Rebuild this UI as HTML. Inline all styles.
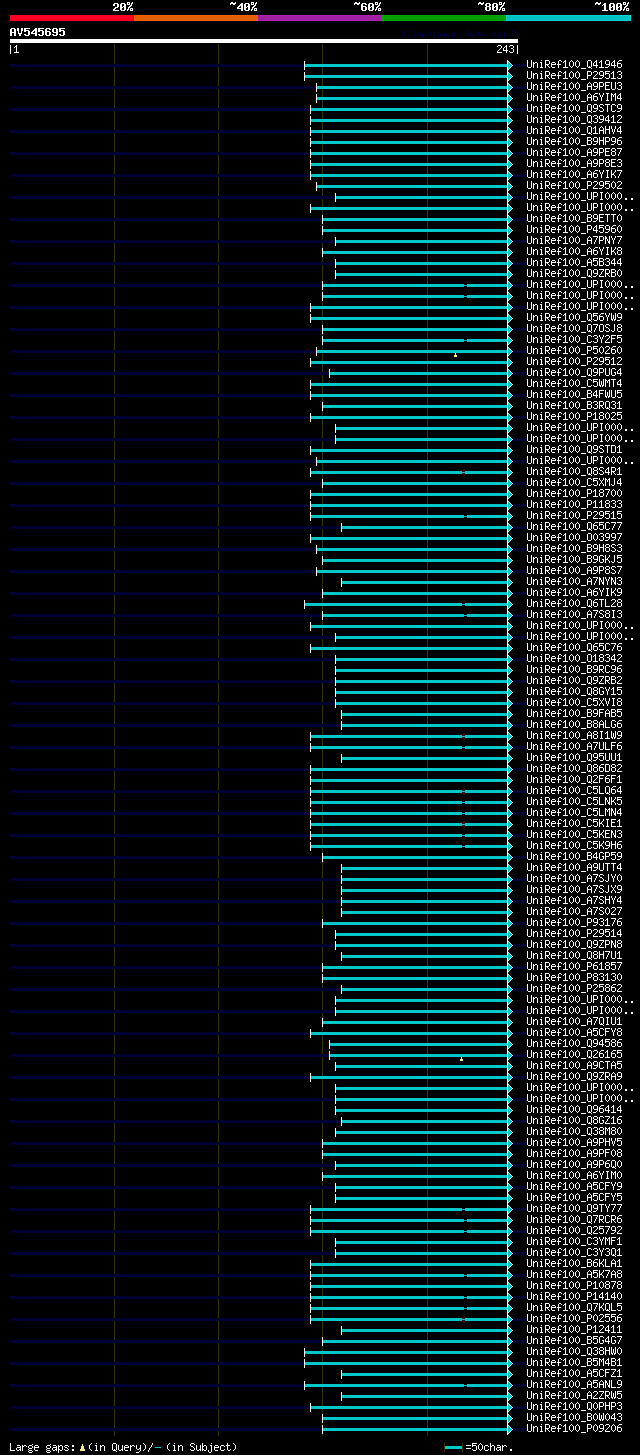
<!DOCTYPE html><html><head><meta charset="utf-8"><title>AlignView</title><style>html,body{margin:0;padding:0;background:#000;overflow:hidden}svg{display:block}</style></head><body><svg width="640" height="1455" viewBox="0 0 640 1455" shape-rendering="crispEdges"><defs>
<path id="M126" d="M1 2h2v1h-2zM5 2h1v1h-1zM0 3h6v1h-6zM0 4h1v1h-1zM3 4h2v1h-2z"/>
<path id="M37" d="M0 2h3v1h-3zM5 2h1v1h-1zM0 3h1v1h-1zM2 3h1v1h-1zM4 3h2v1h-2zM0 4h3v1h-3zM4 4h1v1h-1zM3 5h2v1h-2zM2 6h2v1h-2zM1 7h2v1h-2zM1 8h1v1h-1zM3 8h3v1h-3zM0 9h2v1h-2zM3 9h1v1h-1zM5 9h1v1h-1zM0 10h1v1h-1zM3 10h3v1h-3z"/>
<path id="M48" d="M1 3h4v1h-4zM0 4h2v1h-2zM4 4h2v1h-2zM0 5h2v1h-2zM4 5h2v1h-2zM0 6h2v1h-2zM3 6h3v1h-3zM0 7h3v1h-3zM4 7h2v1h-2zM0 8h2v1h-2zM4 8h2v1h-2zM0 9h2v1h-2zM4 9h2v1h-2zM1 10h4v1h-4z"/>
<path id="M49" d="M2 3h2v1h-2zM1 4h3v1h-3zM0 5h1v1h-1zM2 5h2v1h-2zM2 6h2v1h-2zM2 7h2v1h-2zM2 8h2v1h-2zM2 9h2v1h-2zM0 10h6v1h-6z"/>
<path id="M50" d="M1 3h4v1h-4zM0 4h2v1h-2zM4 4h2v1h-2zM0 5h2v1h-2zM4 5h2v1h-2zM4 6h2v1h-2zM2 7h3v1h-3zM1 8h2v1h-2zM0 9h2v1h-2zM0 10h6v1h-6z"/>
<path id="M52" d="M4 3h2v1h-2zM3 4h3v1h-3zM2 5h4v1h-4zM1 6h2v1h-2zM4 6h2v1h-2zM0 7h2v1h-2zM4 7h2v1h-2zM0 8h6v1h-6zM4 9h2v1h-2zM4 10h2v1h-2z"/>
<path id="M53" d="M0 3h6v1h-6zM0 4h2v1h-2zM0 5h5v1h-5zM0 6h2v1h-2zM4 6h2v1h-2zM4 7h2v1h-2zM4 8h2v1h-2zM0 9h2v1h-2zM4 9h2v1h-2zM1 10h4v1h-4z"/>
<path id="M54" d="M1 3h4v1h-4zM0 4h2v1h-2zM4 4h2v1h-2zM0 5h2v1h-2zM0 6h5v1h-5zM0 7h2v1h-2zM4 7h2v1h-2zM0 8h2v1h-2zM4 8h2v1h-2zM0 9h2v1h-2zM4 9h2v1h-2zM1 10h4v1h-4z"/>
<path id="M56" d="M1 3h4v1h-4zM0 4h2v1h-2zM4 4h2v1h-2zM0 5h2v1h-2zM4 5h2v1h-2zM1 6h4v1h-4zM0 7h2v1h-2zM4 7h2v1h-2zM0 8h2v1h-2zM4 8h2v1h-2zM0 9h2v1h-2zM4 9h2v1h-2zM1 10h4v1h-4z"/>
<path id="M57" d="M1 3h4v1h-4zM0 4h2v1h-2zM4 4h2v1h-2zM0 5h2v1h-2zM4 5h2v1h-2zM0 6h2v1h-2zM4 6h2v1h-2zM1 7h5v1h-5zM4 8h2v1h-2zM0 9h2v1h-2zM4 9h2v1h-2zM1 10h4v1h-4z"/>
<path id="M65" d="M1 3h4v1h-4zM0 4h2v1h-2zM4 4h2v1h-2zM0 5h2v1h-2zM4 5h2v1h-2zM0 6h2v1h-2zM4 6h2v1h-2zM0 7h6v1h-6zM0 8h2v1h-2zM4 8h2v1h-2zM0 9h2v1h-2zM4 9h2v1h-2zM0 10h2v1h-2zM4 10h2v1h-2z"/>
<path id="M86" d="M0 3h2v1h-2zM4 3h2v1h-2zM0 4h2v1h-2zM4 4h2v1h-2zM0 5h2v1h-2zM4 5h2v1h-2zM1 6h1v1h-1zM4 6h1v1h-1zM1 7h1v1h-1zM4 7h1v1h-1zM1 8h4v1h-4zM2 9h2v1h-2zM2 10h2v1h-2z"/>
<path id="S101" d="M1 5h3v1h-3zM0 6h1v1h-1zM4 6h1v1h-1zM0 7h5v1h-5zM0 8h1v1h-1zM0 9h1v1h-1zM1 10h3v1h-3z"/>
<path id="S102" d="M2 3h2v1h-2zM1 4h1v1h-1zM4 4h1v1h-1zM1 5h1v1h-1zM1 6h1v1h-1zM0 7h4v1h-4zM1 8h1v1h-1zM1 9h1v1h-1zM1 10h1v1h-1z"/>
<path id="S103" d="M4 4h1v1h-1zM1 5h3v1h-3zM0 6h1v1h-1zM4 6h1v1h-1zM0 7h1v1h-1zM4 7h1v1h-1zM1 8h3v1h-3zM0 9h1v1h-1zM1 10h3v1h-3zM0 11h1v1h-1zM4 11h1v1h-1zM1 12h3v1h-3z"/>
<path id="S104" d="M0 3h1v1h-1zM0 4h1v1h-1zM0 5h1v1h-1zM2 5h2v1h-2zM0 6h2v1h-2zM4 6h1v1h-1zM0 7h1v1h-1zM4 7h1v1h-1zM0 8h1v1h-1zM4 8h1v1h-1zM0 9h1v1h-1zM4 9h1v1h-1zM0 10h1v1h-1zM4 10h1v1h-1z"/>
<path id="S105" d="M2 3h1v1h-1zM1 5h2v1h-2zM2 6h1v1h-1zM2 7h1v1h-1zM2 8h1v1h-1zM2 9h1v1h-1zM1 10h3v1h-3z"/>
<path id="S106" d="M3 3h1v1h-1zM2 5h2v1h-2zM3 6h1v1h-1zM3 7h1v1h-1zM3 8h1v1h-1zM3 9h1v1h-1zM0 10h1v1h-1zM3 10h1v1h-1zM0 11h1v1h-1zM3 11h1v1h-1zM1 12h2v1h-2z"/>
<path id="S110" d="M0 5h1v1h-1zM2 5h2v1h-2zM0 6h2v1h-2zM4 6h1v1h-1zM0 7h1v1h-1zM4 7h1v1h-1zM0 8h1v1h-1zM4 8h1v1h-1zM0 9h1v1h-1zM4 9h1v1h-1zM0 10h1v1h-1zM4 10h1v1h-1z"/>
<path id="S112" d="M0 5h1v1h-1zM2 5h2v1h-2zM0 6h2v1h-2zM4 6h1v1h-1zM0 7h1v1h-1zM4 7h1v1h-1zM0 8h1v1h-1zM4 8h1v1h-1zM0 9h2v1h-2zM4 9h1v1h-1zM0 10h1v1h-1zM2 10h2v1h-2zM0 11h1v1h-1zM0 12h1v1h-1z"/>
<path id="S114" d="M0 5h1v1h-1zM2 5h2v1h-2zM0 6h2v1h-2zM4 6h1v1h-1zM0 7h1v1h-1zM0 8h1v1h-1zM0 9h1v1h-1zM0 10h1v1h-1z"/>
<path id="S115" d="M1 5h3v1h-3zM0 6h1v1h-1zM4 6h1v1h-1zM1 7h2v1h-2zM3 8h1v1h-1zM0 9h1v1h-1zM4 9h1v1h-1zM1 10h3v1h-3z"/>
<path id="S116" d="M1 3h1v1h-1zM1 4h1v1h-1zM0 5h4v1h-4zM1 6h1v1h-1zM1 7h1v1h-1zM1 8h1v1h-1zM1 9h1v1h-1zM4 9h1v1h-1zM2 10h2v1h-2z"/>
<path id="S117" d="M0 5h1v1h-1zM4 5h1v1h-1zM0 6h1v1h-1zM4 6h1v1h-1zM0 7h1v1h-1zM4 7h1v1h-1zM0 8h1v1h-1zM4 8h1v1h-1zM0 9h1v1h-1zM3 9h2v1h-2zM1 10h2v1h-2zM4 10h1v1h-1z"/>
<path id="S121" d="M0 5h1v1h-1zM4 5h1v1h-1zM0 6h1v1h-1zM4 6h1v1h-1zM0 7h1v1h-1zM4 7h1v1h-1zM0 8h1v1h-1zM3 8h2v1h-2zM1 9h2v1h-2zM4 9h1v1h-1zM4 10h1v1h-1zM3 11h1v1h-1zM0 12h3v1h-3z"/>
<path id="S124" d="M2 3h1v1h-1zM2 4h1v1h-1zM2 5h1v1h-1zM2 6h1v1h-1zM2 7h1v1h-1zM2 8h1v1h-1zM2 9h1v1h-1zM2 10h1v1h-1zM2 11h1v1h-1z"/>
<path id="S40" d="M3 3h1v1h-1zM2 4h1v1h-1zM1 5h1v1h-1zM1 6h1v1h-1zM1 7h1v1h-1zM1 8h1v1h-1zM2 9h1v1h-1zM3 10h1v1h-1z"/>
<path id="S41" d="M1 3h1v1h-1zM2 4h1v1h-1zM3 5h1v1h-1zM3 6h1v1h-1zM3 7h1v1h-1zM3 8h1v1h-1zM2 9h1v1h-1zM1 10h1v1h-1z"/>
<path id="S46" d="M2 9h2v1h-2zM2 10h2v1h-2z"/>
<path id="S47" d="M4 3h1v1h-1zM4 4h1v1h-1zM3 5h1v1h-1zM3 6h1v1h-1zM2 7h1v1h-1zM1 8h1v1h-1zM1 9h1v1h-1zM0 10h1v1h-1zM0 11h1v1h-1z"/>
<path id="S48" d="M2 3h1v1h-1zM1 4h1v1h-1zM3 4h1v1h-1zM0 5h1v1h-1zM4 5h1v1h-1zM0 6h1v1h-1zM4 6h1v1h-1zM0 7h1v1h-1zM4 7h1v1h-1zM0 8h1v1h-1zM4 8h1v1h-1zM1 9h1v1h-1zM3 9h1v1h-1zM2 10h1v1h-1z"/>
<path id="S49" d="M2 3h1v1h-1zM1 4h2v1h-2zM0 5h1v1h-1zM2 5h1v1h-1zM2 6h1v1h-1zM2 7h1v1h-1zM2 8h1v1h-1zM2 9h1v1h-1zM0 10h5v1h-5z"/>
<path id="S50" d="M1 3h3v1h-3zM0 4h1v1h-1zM4 4h1v1h-1zM4 5h1v1h-1zM3 6h1v1h-1zM2 7h1v1h-1zM1 8h1v1h-1zM0 9h1v1h-1zM0 10h5v1h-5z"/>
<path id="S51" d="M1 3h3v1h-3zM0 4h1v1h-1zM4 4h1v1h-1zM4 5h1v1h-1zM2 6h2v1h-2zM4 7h1v1h-1zM4 8h1v1h-1zM0 9h1v1h-1zM4 9h1v1h-1zM1 10h3v1h-3z"/>
<path id="S52" d="M3 3h1v1h-1zM2 4h2v1h-2zM1 5h1v1h-1zM3 5h1v1h-1zM0 6h1v1h-1zM3 6h1v1h-1zM0 7h1v1h-1zM3 7h1v1h-1zM0 8h5v1h-5zM3 9h1v1h-1zM3 10h1v1h-1z"/>
<path id="S53" d="M0 3h5v1h-5zM0 4h1v1h-1zM0 5h4v1h-4zM0 6h1v1h-1zM4 6h1v1h-1zM4 7h1v1h-1zM4 8h1v1h-1zM0 9h1v1h-1zM4 9h1v1h-1zM1 10h3v1h-3z"/>
<path id="S54" d="M2 3h3v1h-3zM1 4h1v1h-1zM0 5h1v1h-1zM0 6h4v1h-4zM0 7h1v1h-1zM4 7h1v1h-1zM0 8h1v1h-1zM4 8h1v1h-1zM0 9h1v1h-1zM4 9h1v1h-1zM1 10h3v1h-3z"/>
<path id="S55" d="M0 3h5v1h-5zM4 4h1v1h-1zM3 5h1v1h-1zM3 6h1v1h-1zM2 7h1v1h-1zM2 8h1v1h-1zM1 9h1v1h-1zM1 10h1v1h-1z"/>
<path id="S56" d="M1 3h3v1h-3zM0 4h1v1h-1zM4 4h1v1h-1zM0 5h1v1h-1zM4 5h1v1h-1zM1 6h3v1h-3zM0 7h1v1h-1zM4 7h1v1h-1zM0 8h1v1h-1zM4 8h1v1h-1zM0 9h1v1h-1zM4 9h1v1h-1zM1 10h3v1h-3z"/>
<path id="S57" d="M1 3h3v1h-3zM0 4h1v1h-1zM4 4h1v1h-1zM0 5h1v1h-1zM4 5h1v1h-1zM0 6h1v1h-1zM4 6h1v1h-1zM1 7h4v1h-4zM4 8h1v1h-1zM3 9h1v1h-1zM0 10h3v1h-3z"/>
<path id="S58" d="M2 5h2v1h-2zM2 6h2v1h-2zM2 9h2v1h-2zM2 10h2v1h-2z"/>
<path id="S61" d="M0 5h5v1h-5zM0 8h5v1h-5z"/>
<path id="S65" d="M2 3h1v1h-1zM1 4h1v1h-1zM3 4h1v1h-1zM0 5h1v1h-1zM4 5h1v1h-1zM0 6h1v1h-1zM4 6h1v1h-1zM0 7h5v1h-5zM0 8h1v1h-1zM4 8h1v1h-1zM0 9h1v1h-1zM4 9h1v1h-1zM0 10h1v1h-1zM4 10h1v1h-1z"/>
<path id="S66" d="M0 3h4v1h-4zM0 4h1v1h-1zM4 4h1v1h-1zM0 5h1v1h-1zM4 5h1v1h-1zM0 6h4v1h-4zM0 7h1v1h-1zM4 7h1v1h-1zM0 8h1v1h-1zM4 8h1v1h-1zM0 9h1v1h-1zM4 9h1v1h-1zM0 10h4v1h-4z"/>
<path id="S67" d="M1 3h3v1h-3zM0 4h1v1h-1zM4 4h1v1h-1zM0 5h1v1h-1zM0 6h1v1h-1zM0 7h1v1h-1zM0 8h1v1h-1zM0 9h1v1h-1zM4 9h1v1h-1zM1 10h3v1h-3z"/>
<path id="S68" d="M0 3h4v1h-4zM0 4h1v1h-1zM4 4h1v1h-1zM0 5h1v1h-1zM4 5h1v1h-1zM0 6h1v1h-1zM4 6h1v1h-1zM0 7h1v1h-1zM4 7h1v1h-1zM0 8h1v1h-1zM4 8h1v1h-1zM0 9h1v1h-1zM4 9h1v1h-1zM0 10h4v1h-4z"/>
<path id="S69" d="M0 3h5v1h-5zM0 4h1v1h-1zM0 5h1v1h-1zM0 6h4v1h-4zM0 7h1v1h-1zM0 8h1v1h-1zM0 9h1v1h-1zM0 10h5v1h-5z"/>
<path id="S70" d="M0 3h5v1h-5zM0 4h1v1h-1zM0 5h1v1h-1zM0 6h4v1h-4zM0 7h1v1h-1zM0 8h1v1h-1zM0 9h1v1h-1zM0 10h1v1h-1z"/>
<path id="S71" d="M1 3h3v1h-3zM0 4h1v1h-1zM4 4h1v1h-1zM0 5h1v1h-1zM0 6h1v1h-1zM0 7h1v1h-1zM3 7h2v1h-2zM0 8h1v1h-1zM4 8h1v1h-1zM0 9h1v1h-1zM4 9h1v1h-1zM1 10h3v1h-3z"/>
<path id="S72" d="M0 3h1v1h-1zM4 3h1v1h-1zM0 4h1v1h-1zM4 4h1v1h-1zM0 5h1v1h-1zM4 5h1v1h-1zM0 6h5v1h-5zM0 7h1v1h-1zM4 7h1v1h-1zM0 8h1v1h-1zM4 8h1v1h-1zM0 9h1v1h-1zM4 9h1v1h-1zM0 10h1v1h-1zM4 10h1v1h-1z"/>
<path id="S73" d="M1 3h3v1h-3zM2 4h1v1h-1zM2 5h1v1h-1zM2 6h1v1h-1zM2 7h1v1h-1zM2 8h1v1h-1zM2 9h1v1h-1zM1 10h3v1h-3z"/>
<path id="S74" d="M3 3h1v1h-1zM3 4h1v1h-1zM3 5h1v1h-1zM3 6h1v1h-1zM3 7h1v1h-1zM3 8h1v1h-1zM0 9h1v1h-1zM3 9h1v1h-1zM1 10h2v1h-2z"/>
<path id="S75" d="M0 3h1v1h-1zM4 3h1v1h-1zM0 4h1v1h-1zM4 4h1v1h-1zM0 5h1v1h-1zM3 5h1v1h-1zM0 6h1v1h-1zM2 6h1v1h-1zM0 7h3v1h-3zM0 8h1v1h-1zM3 8h1v1h-1zM0 9h1v1h-1zM4 9h1v1h-1zM0 10h1v1h-1zM4 10h1v1h-1z"/>
<path id="S76" d="M0 3h1v1h-1zM0 4h1v1h-1zM0 5h1v1h-1zM0 6h1v1h-1zM0 7h1v1h-1zM0 8h1v1h-1zM0 9h1v1h-1zM0 10h5v1h-5z"/>
<path id="S77" d="M0 3h1v1h-1zM4 3h1v1h-1zM0 4h2v1h-2zM3 4h2v1h-2zM0 5h1v1h-1zM2 5h1v1h-1zM4 5h1v1h-1zM0 6h1v1h-1zM2 6h1v1h-1zM4 6h1v1h-1zM0 7h1v1h-1zM4 7h1v1h-1zM0 8h1v1h-1zM4 8h1v1h-1zM0 9h1v1h-1zM4 9h1v1h-1zM0 10h1v1h-1zM4 10h1v1h-1z"/>
<path id="S78" d="M0 3h1v1h-1zM4 3h1v1h-1zM0 4h2v1h-2zM4 4h1v1h-1zM0 5h2v1h-2zM4 5h1v1h-1zM0 6h1v1h-1zM2 6h1v1h-1zM4 6h1v1h-1zM0 7h1v1h-1zM2 7h1v1h-1zM4 7h1v1h-1zM0 8h1v1h-1zM3 8h2v1h-2zM0 9h1v1h-1zM3 9h2v1h-2zM0 10h1v1h-1zM4 10h1v1h-1z"/>
<path id="S79" d="M1 3h3v1h-3zM0 4h1v1h-1zM4 4h1v1h-1zM0 5h1v1h-1zM4 5h1v1h-1zM0 6h1v1h-1zM4 6h1v1h-1zM0 7h1v1h-1zM4 7h1v1h-1zM0 8h1v1h-1zM4 8h1v1h-1zM0 9h1v1h-1zM4 9h1v1h-1zM1 10h3v1h-3z"/>
<path id="S80" d="M0 3h4v1h-4zM0 4h1v1h-1zM4 4h1v1h-1zM0 5h1v1h-1zM4 5h1v1h-1zM0 6h1v1h-1zM4 6h1v1h-1zM0 7h4v1h-4zM0 8h1v1h-1zM0 9h1v1h-1zM0 10h1v1h-1z"/>
<path id="S81" d="M1 3h3v1h-3zM0 4h1v1h-1zM4 4h1v1h-1zM0 5h1v1h-1zM4 5h1v1h-1zM0 6h1v1h-1zM4 6h1v1h-1zM0 7h1v1h-1zM4 7h1v1h-1zM0 8h1v1h-1zM4 8h1v1h-1zM0 9h1v1h-1zM2 9h1v1h-1zM4 9h1v1h-1zM1 10h3v1h-3zM4 11h1v1h-1z"/>
<path id="S82" d="M0 3h4v1h-4zM0 4h1v1h-1zM4 4h1v1h-1zM0 5h1v1h-1zM4 5h1v1h-1zM0 6h1v1h-1zM4 6h1v1h-1zM0 7h4v1h-4zM0 8h1v1h-1zM2 8h1v1h-1zM0 9h1v1h-1zM3 9h1v1h-1zM0 10h1v1h-1zM4 10h1v1h-1z"/>
<path id="S83" d="M1 3h3v1h-3zM0 4h1v1h-1zM4 4h1v1h-1zM0 5h1v1h-1zM1 6h2v1h-2zM3 7h1v1h-1zM4 8h1v1h-1zM0 9h1v1h-1zM4 9h1v1h-1zM1 10h3v1h-3z"/>
<path id="S84" d="M0 3h5v1h-5zM2 4h1v1h-1zM2 5h1v1h-1zM2 6h1v1h-1zM2 7h1v1h-1zM2 8h1v1h-1zM2 9h1v1h-1zM2 10h1v1h-1z"/>
<path id="S85" d="M0 3h1v1h-1zM4 3h1v1h-1zM0 4h1v1h-1zM4 4h1v1h-1zM0 5h1v1h-1zM4 5h1v1h-1zM0 6h1v1h-1zM4 6h1v1h-1zM0 7h1v1h-1zM4 7h1v1h-1zM0 8h1v1h-1zM4 8h1v1h-1zM0 9h1v1h-1zM4 9h1v1h-1zM1 10h3v1h-3z"/>
<path id="S86" d="M0 3h1v1h-1zM4 3h1v1h-1zM0 4h1v1h-1zM4 4h1v1h-1zM0 5h1v1h-1zM4 5h1v1h-1zM1 6h1v1h-1zM3 6h1v1h-1zM1 7h1v1h-1zM3 7h1v1h-1zM1 8h1v1h-1zM3 8h1v1h-1zM2 9h1v1h-1zM2 10h1v1h-1z"/>
<path id="S87" d="M0 3h1v1h-1zM4 3h1v1h-1zM0 4h1v1h-1zM4 4h1v1h-1zM0 5h1v1h-1zM2 5h1v1h-1zM4 5h1v1h-1zM0 6h1v1h-1zM2 6h1v1h-1zM4 6h1v1h-1zM0 7h1v1h-1zM2 7h1v1h-1zM4 7h1v1h-1zM0 8h1v1h-1zM2 8h1v1h-1zM4 8h1v1h-1zM0 9h2v1h-2zM3 9h2v1h-2zM1 10h1v1h-1zM3 10h1v1h-1z"/>
<path id="S88" d="M0 3h1v1h-1zM4 3h1v1h-1zM0 4h1v1h-1zM4 4h1v1h-1zM1 5h1v1h-1zM3 5h1v1h-1zM2 6h1v1h-1zM2 7h1v1h-1zM1 8h1v1h-1zM3 8h1v1h-1zM0 9h1v1h-1zM4 9h1v1h-1zM0 10h1v1h-1zM4 10h1v1h-1z"/>
<path id="S89" d="M0 3h1v1h-1zM4 3h1v1h-1zM0 4h1v1h-1zM4 4h1v1h-1zM1 5h1v1h-1zM3 5h1v1h-1zM1 6h1v1h-1zM3 6h1v1h-1zM2 7h1v1h-1zM2 8h1v1h-1zM2 9h1v1h-1zM2 10h1v1h-1z"/>
<path id="S90" d="M0 3h5v1h-5zM4 4h1v1h-1zM3 5h1v1h-1zM2 6h1v1h-1zM2 7h1v1h-1zM1 8h1v1h-1zM0 9h1v1h-1zM0 10h5v1h-5z"/>
<path id="S95" d="M0 11h5v1h-5z"/>
<path id="S97" d="M1 5h3v1h-3zM4 6h1v1h-1zM1 7h4v1h-4zM0 8h1v1h-1zM4 8h1v1h-1zM0 9h1v1h-1zM3 9h2v1h-2zM1 10h2v1h-2zM4 10h1v1h-1z"/>
<path id="S98" d="M0 3h1v1h-1zM0 4h1v1h-1zM0 5h1v1h-1zM2 5h2v1h-2zM0 6h2v1h-2zM4 6h1v1h-1zM0 7h1v1h-1zM4 7h1v1h-1zM0 8h1v1h-1zM4 8h1v1h-1zM0 9h2v1h-2zM4 9h1v1h-1zM0 10h1v1h-1zM2 10h2v1h-2z"/>
<path id="S99" d="M1 5h3v1h-3zM0 6h1v1h-1zM4 6h1v1h-1zM0 7h1v1h-1zM0 8h1v1h-1zM0 9h1v1h-1zM4 9h1v1h-1zM1 10h3v1h-3z"/>
<path id="T101" d="M1 3h2v1h-2zM0 4h1v1h-1zM2 4h2v1h-2zM0 5h2v1h-2zM1 6h3v1h-3z"/>
<path id="T103" d="M1 3h3v1h-3zM0 4h1v1h-1zM3 4h1v1h-1zM1 5h3v1h-3zM3 6h1v1h-1zM1 7h2v1h-2z"/>
<path id="T105" d="M2 1h1v1h-1zM1 3h2v1h-2zM2 4h1v1h-1zM2 5h1v1h-1zM1 6h3v1h-3z"/>
<path id="T108" d="M1 1h2v1h-2zM2 2h1v1h-1zM2 3h1v1h-1zM2 4h1v1h-1zM2 5h1v1h-1zM1 6h3v1h-3z"/>
<path id="T109" d="M0 3h2v1h-2zM3 3h1v1h-1zM0 4h1v1h-1zM2 4h1v1h-1zM4 4h1v1h-1zM0 5h1v1h-1zM2 5h1v1h-1zM4 5h1v1h-1zM0 6h1v1h-1zM4 6h1v1h-1z"/>
<path id="T110" d="M0 3h1v1h-1zM2 3h1v1h-1zM0 4h2v1h-2zM3 4h1v1h-1zM0 5h1v1h-1zM3 5h1v1h-1zM0 6h1v1h-1zM3 6h1v1h-1z"/>
<path id="T112" d="M0 3h3v1h-3zM0 4h1v1h-1zM3 4h1v1h-1zM0 5h3v1h-3zM0 6h1v1h-1zM0 7h1v1h-1z"/>
<path id="T114" d="M0 3h1v1h-1zM2 3h1v1h-1zM0 4h2v1h-2zM3 4h1v1h-1zM0 5h1v1h-1zM0 6h1v1h-1z"/>
<path id="T116" d="M1 1h1v1h-1zM1 2h1v1h-1zM0 3h3v1h-3zM1 4h1v1h-1zM1 5h1v1h-1zM3 5h1v1h-1zM2 6h1v1h-1z"/>
<path id="T119" d="M0 3h1v1h-1zM4 3h1v1h-1zM0 4h1v1h-1zM2 4h1v1h-1zM4 4h1v1h-1zM0 5h1v1h-1zM2 5h1v1h-1zM4 5h1v1h-1zM1 6h3v1h-3z"/>
<path id="T46" d="M1 5h2v1h-2zM1 6h2v1h-2z"/>
<path id="T55" d="M0 1h4v1h-4zM3 2h1v1h-1zM2 3h1v1h-1zM2 4h1v1h-1zM1 5h1v1h-1zM1 6h1v1h-1z"/>
<path id="T65" d="M1 1h2v1h-2zM0 2h1v1h-1zM3 2h1v1h-1zM0 3h1v1h-1zM3 3h1v1h-1zM0 4h4v1h-4zM0 5h1v1h-1zM3 5h1v1h-1zM0 6h1v1h-1zM3 6h1v1h-1z"/>
<path id="T66" d="M0 1h3v1h-3zM0 2h1v1h-1zM3 2h1v1h-1zM0 3h3v1h-3zM0 4h1v1h-1zM3 4h1v1h-1zM0 5h1v1h-1zM3 5h1v1h-1zM0 6h3v1h-3z"/>
<path id="T86" d="M0 1h1v1h-1zM3 1h1v1h-1zM0 2h1v1h-1zM3 2h1v1h-1zM0 3h1v1h-1zM3 3h1v1h-1zM0 4h1v1h-1zM3 4h1v1h-1zM1 5h2v1h-2zM1 6h2v1h-2z"/>
<path id="T97" d="M1 3h3v1h-3zM0 4h1v1h-1zM3 4h1v1h-1zM0 5h1v1h-1zM2 5h2v1h-2zM1 6h1v1h-1zM3 6h1v1h-1z"/>
<g id="pre"><use href="#S85" x="0" y="0"/><use href="#S110" x="6" y="0"/><use href="#S105" x="12" y="0"/><use href="#S82" x="18" y="0"/><use href="#S101" x="24" y="0"/><use href="#S102" x="30" y="0"/><use href="#S49" x="36" y="0"/><use href="#S48" x="42" y="0"/><use href="#S48" x="48" y="0"/><use href="#S95" x="54" y="0"/></g>
<g id="tri"><path fill="#fff" d="M0 0h1v11h-1zM1 1h1v1h-1zM2 2h1v1h-1zM3 3h1v1h-1zM4 4h1v1h-1zM5 5h1v1h-1zM4 6h1v1h-1zM3 7h1v1h-1zM2 8h1v1h-1zM1 9h1v1h-1z"/><path fill="#00c8c8" d="M1 2h1v7h-1zM2 3h1v5h-1zM3 4h1v3h-1zM4 5h1v1h-1z"/></g>
</defs>
<rect width="640" height="1455" fill="#000"/>
<rect x="10" y="15" width="125" height="6" fill="#ff0022"/>
<rect x="11" y="16" width="123" height="4" fill="#ff0022"/>
<g fill="#fff"><use href="#M50" x="113" y="0"/><use href="#M48" x="120" y="0"/><use href="#M37" x="127" y="0"/></g>
<rect x="134" y="15" width="125" height="6" fill="#f06400"/>
<rect x="135" y="16" width="123" height="4" fill="#e26000"/>
<g fill="#fff"><use href="#M126" x="230" y="0"/><use href="#M52" x="237" y="0"/><use href="#M48" x="244" y="0"/><use href="#M37" x="251" y="0"/></g>
<rect x="258" y="15" width="125" height="6" fill="#b020b0"/>
<rect x="259" y="16" width="123" height="4" fill="#a020a2"/>
<g fill="#fff"><use href="#M126" x="354" y="0"/><use href="#M54" x="361" y="0"/><use href="#M48" x="368" y="0"/><use href="#M37" x="375" y="0"/></g>
<rect x="382" y="15" width="125" height="6" fill="#00aa00"/>
<rect x="383" y="16" width="123" height="4" fill="#00a000"/>
<g fill="#fff"><use href="#M126" x="478" y="0"/><use href="#M56" x="485" y="0"/><use href="#M48" x="492" y="0"/><use href="#M37" x="499" y="0"/></g>
<rect x="506" y="15" width="125" height="6" fill="#00d0d0"/>
<rect x="507" y="16" width="123" height="4" fill="#00c2c2"/>
<g fill="#fff"><use href="#M126" x="595" y="0"/><use href="#M49" x="602" y="0"/><use href="#M48" x="609" y="0"/><use href="#M48" x="616" y="0"/><use href="#M37" x="623" y="0"/></g>
<g fill="#fff"><use href="#M65" x="10" y="25"/><use href="#M86" x="17" y="25"/><use href="#M53" x="24" y="25"/><use href="#M52" x="31" y="25"/><use href="#M53" x="38" y="25"/><use href="#M54" x="45" y="25"/><use href="#M57" x="52" y="25"/><use href="#M53" x="59" y="25"/></g>
<g fill="#00003e"><use href="#T65" x="402" y="30"/><use href="#T108" x="407" y="30"/><use href="#T105" x="412" y="30"/><use href="#T103" x="417" y="30"/><use href="#T110" x="422" y="30"/><use href="#T86" x="427" y="30"/><use href="#T105" x="432" y="30"/><use href="#T101" x="437" y="30"/><use href="#T119" x="442" y="30"/><use href="#T46" x="447" y="30"/><use href="#T112" x="452" y="30"/><use href="#T109" x="457" y="30"/><use href="#T66" x="467" y="30"/><use href="#T101" x="472" y="30"/><use href="#T116" x="477" y="30"/><use href="#T97" x="482" y="30"/><use href="#T114" x="492" y="30"/><use href="#T101" x="497" y="30"/><use href="#T108" x="502" y="30"/><use href="#T46" x="507" y="30"/><use href="#T55" x="512" y="30"/></g>
<rect x="10" y="39" width="508" height="4" fill="#fff"/>
<rect x="114" y="44" width="1" height="1392" fill="#333300"/>
<rect x="218" y="44" width="1" height="1392" fill="#333300"/>
<rect x="322" y="44" width="1" height="1392" fill="#333300"/>
<rect x="427" y="44" width="1" height="1392" fill="#333300"/>
<g fill="#fff"><use href="#S124" x="8" y="42"/><use href="#S49" x="14" y="42"/></g>
<g fill="#fff"><use href="#S50" x="497" y="42"/><use href="#S52" x="503" y="42"/><use href="#S51" x="509" y="42"/><use href="#S124" x="515" y="42"/></g>
<rect x="10" y="64" width="517" height="3" fill="#000033"/>
<rect x="305" y="64" width="202" height="3" fill="#00c8c8"/>
<rect x="304" y="61" width="1" height="9" fill="#fff"/>
<use href="#tri" x="507" y="60"/>
<g fill="#fff"><use href="#pre" x="527" y="57"/><use href="#S81" x="587" y="57"/><use href="#S52" x="593" y="57"/><use href="#S49" x="599" y="57"/><use href="#S57" x="605" y="57"/><use href="#S52" x="611" y="57"/><use href="#S54" x="617" y="57"/></g>
<rect x="305" y="75" width="202" height="3" fill="#00c8c8"/>
<rect x="304" y="72" width="1" height="9" fill="#fff"/>
<use href="#tri" x="507" y="71"/>
<g fill="#fff"><use href="#pre" x="527" y="68"/><use href="#S80" x="587" y="68"/><use href="#S50" x="593" y="68"/><use href="#S57" x="599" y="68"/><use href="#S53" x="605" y="68"/><use href="#S49" x="611" y="68"/><use href="#S51" x="617" y="68"/></g>
<rect x="10" y="86" width="517" height="3" fill="#000033"/>
<rect x="317" y="86" width="190" height="3" fill="#00c8c8"/>
<rect x="316" y="83" width="1" height="9" fill="#fff"/>
<use href="#tri" x="507" y="82"/>
<g fill="#fff"><use href="#pre" x="527" y="79"/><use href="#S65" x="587" y="79"/><use href="#S57" x="593" y="79"/><use href="#S80" x="599" y="79"/><use href="#S69" x="605" y="79"/><use href="#S85" x="611" y="79"/><use href="#S51" x="617" y="79"/></g>
<rect x="317" y="97" width="190" height="3" fill="#00c8c8"/>
<rect x="316" y="94" width="1" height="9" fill="#fff"/>
<use href="#tri" x="507" y="93"/>
<g fill="#fff"><use href="#pre" x="527" y="90"/><use href="#S65" x="587" y="90"/><use href="#S54" x="593" y="90"/><use href="#S89" x="599" y="90"/><use href="#S73" x="605" y="90"/><use href="#S77" x="611" y="90"/><use href="#S52" x="617" y="90"/></g>
<rect x="10" y="108" width="517" height="3" fill="#000033"/>
<rect x="311" y="108" width="196" height="3" fill="#00c8c8"/>
<rect x="310" y="105" width="1" height="9" fill="#fff"/>
<use href="#tri" x="507" y="104"/>
<g fill="#fff"><use href="#pre" x="527" y="101"/><use href="#S81" x="587" y="101"/><use href="#S57" x="593" y="101"/><use href="#S83" x="599" y="101"/><use href="#S84" x="605" y="101"/><use href="#S67" x="611" y="101"/><use href="#S57" x="617" y="101"/></g>
<rect x="311" y="119" width="196" height="3" fill="#00c8c8"/>
<rect x="310" y="116" width="1" height="9" fill="#fff"/>
<use href="#tri" x="507" y="115"/>
<g fill="#fff"><use href="#pre" x="527" y="112"/><use href="#S81" x="587" y="112"/><use href="#S51" x="593" y="112"/><use href="#S57" x="599" y="112"/><use href="#S52" x="605" y="112"/><use href="#S49" x="611" y="112"/><use href="#S50" x="617" y="112"/></g>
<rect x="10" y="130" width="517" height="3" fill="#000033"/>
<rect x="311" y="130" width="196" height="3" fill="#00c8c8"/>
<rect x="310" y="127" width="1" height="9" fill="#fff"/>
<use href="#tri" x="507" y="126"/>
<g fill="#fff"><use href="#pre" x="527" y="123"/><use href="#S81" x="587" y="123"/><use href="#S49" x="593" y="123"/><use href="#S65" x="599" y="123"/><use href="#S72" x="605" y="123"/><use href="#S86" x="611" y="123"/><use href="#S52" x="617" y="123"/></g>
<rect x="311" y="141" width="196" height="3" fill="#00c8c8"/>
<rect x="310" y="138" width="1" height="9" fill="#fff"/>
<use href="#tri" x="507" y="137"/>
<g fill="#fff"><use href="#pre" x="527" y="134"/><use href="#S66" x="587" y="134"/><use href="#S57" x="593" y="134"/><use href="#S72" x="599" y="134"/><use href="#S80" x="605" y="134"/><use href="#S57" x="611" y="134"/><use href="#S54" x="617" y="134"/></g>
<rect x="10" y="152" width="517" height="3" fill="#000033"/>
<rect x="311" y="152" width="196" height="3" fill="#00c8c8"/>
<rect x="310" y="149" width="1" height="9" fill="#fff"/>
<use href="#tri" x="507" y="148"/>
<g fill="#fff"><use href="#pre" x="527" y="145"/><use href="#S65" x="587" y="145"/><use href="#S57" x="593" y="145"/><use href="#S80" x="599" y="145"/><use href="#S69" x="605" y="145"/><use href="#S56" x="611" y="145"/><use href="#S55" x="617" y="145"/></g>
<rect x="311" y="163" width="196" height="3" fill="#00c8c8"/>
<rect x="310" y="160" width="1" height="9" fill="#fff"/>
<use href="#tri" x="507" y="159"/>
<g fill="#fff"><use href="#pre" x="527" y="156"/><use href="#S65" x="587" y="156"/><use href="#S57" x="593" y="156"/><use href="#S80" x="599" y="156"/><use href="#S56" x="605" y="156"/><use href="#S69" x="611" y="156"/><use href="#S51" x="617" y="156"/></g>
<rect x="10" y="174" width="517" height="3" fill="#000033"/>
<rect x="311" y="174" width="196" height="3" fill="#00c8c8"/>
<rect x="310" y="171" width="1" height="9" fill="#fff"/>
<use href="#tri" x="507" y="170"/>
<g fill="#fff"><use href="#pre" x="527" y="167"/><use href="#S65" x="587" y="167"/><use href="#S54" x="593" y="167"/><use href="#S89" x="599" y="167"/><use href="#S73" x="605" y="167"/><use href="#S75" x="611" y="167"/><use href="#S55" x="617" y="167"/></g>
<rect x="317" y="185" width="190" height="3" fill="#00c8c8"/>
<rect x="316" y="182" width="1" height="9" fill="#fff"/>
<use href="#tri" x="507" y="181"/>
<g fill="#fff"><use href="#pre" x="527" y="178"/><use href="#S80" x="587" y="178"/><use href="#S50" x="593" y="178"/><use href="#S57" x="599" y="178"/><use href="#S53" x="605" y="178"/><use href="#S48" x="611" y="178"/><use href="#S50" x="617" y="178"/></g>
<rect x="10" y="196" width="517" height="3" fill="#000033"/>
<rect x="336" y="196" width="171" height="3" fill="#00c8c8"/>
<rect x="335" y="193" width="1" height="9" fill="#fff"/>
<use href="#tri" x="507" y="192"/>
<g fill="#fff"><use href="#pre" x="527" y="189"/><use href="#S85" x="587" y="189"/><use href="#S80" x="593" y="189"/><use href="#S73" x="599" y="189"/><use href="#S48" x="605" y="189"/><use href="#S48" x="611" y="189"/><use href="#S48" x="617" y="189"/><use href="#S46" x="623" y="189"/><use href="#S46" x="629" y="189"/></g>
<rect x="311" y="207" width="196" height="3" fill="#00c8c8"/>
<rect x="310" y="204" width="1" height="9" fill="#fff"/>
<use href="#tri" x="507" y="203"/>
<g fill="#fff"><use href="#pre" x="527" y="200"/><use href="#S85" x="587" y="200"/><use href="#S80" x="593" y="200"/><use href="#S73" x="599" y="200"/><use href="#S48" x="605" y="200"/><use href="#S48" x="611" y="200"/><use href="#S48" x="617" y="200"/><use href="#S46" x="623" y="200"/><use href="#S46" x="629" y="200"/></g>
<rect x="10" y="218" width="517" height="3" fill="#000033"/>
<rect x="323" y="218" width="184" height="3" fill="#00c8c8"/>
<rect x="322" y="215" width="1" height="9" fill="#fff"/>
<use href="#tri" x="507" y="214"/>
<g fill="#fff"><use href="#pre" x="527" y="211"/><use href="#S66" x="587" y="211"/><use href="#S57" x="593" y="211"/><use href="#S69" x="599" y="211"/><use href="#S84" x="605" y="211"/><use href="#S84" x="611" y="211"/><use href="#S48" x="617" y="211"/></g>
<rect x="323" y="229" width="184" height="3" fill="#00c8c8"/>
<rect x="322" y="226" width="1" height="9" fill="#fff"/>
<use href="#tri" x="507" y="225"/>
<g fill="#fff"><use href="#pre" x="527" y="222"/><use href="#S80" x="587" y="222"/><use href="#S52" x="593" y="222"/><use href="#S53" x="599" y="222"/><use href="#S57" x="605" y="222"/><use href="#S54" x="611" y="222"/><use href="#S48" x="617" y="222"/></g>
<rect x="10" y="240" width="517" height="3" fill="#000033"/>
<rect x="336" y="240" width="171" height="3" fill="#00c8c8"/>
<rect x="335" y="237" width="1" height="9" fill="#fff"/>
<use href="#tri" x="507" y="236"/>
<g fill="#fff"><use href="#pre" x="527" y="233"/><use href="#S65" x="587" y="233"/><use href="#S55" x="593" y="233"/><use href="#S80" x="599" y="233"/><use href="#S78" x="605" y="233"/><use href="#S89" x="611" y="233"/><use href="#S55" x="617" y="233"/></g>
<rect x="323" y="251" width="184" height="3" fill="#00c8c8"/>
<rect x="322" y="248" width="1" height="9" fill="#fff"/>
<use href="#tri" x="507" y="247"/>
<g fill="#fff"><use href="#pre" x="527" y="244"/><use href="#S65" x="587" y="244"/><use href="#S54" x="593" y="244"/><use href="#S89" x="599" y="244"/><use href="#S73" x="605" y="244"/><use href="#S75" x="611" y="244"/><use href="#S56" x="617" y="244"/></g>
<rect x="10" y="262" width="517" height="3" fill="#000033"/>
<rect x="336" y="262" width="171" height="3" fill="#00c8c8"/>
<rect x="335" y="259" width="1" height="9" fill="#fff"/>
<use href="#tri" x="507" y="258"/>
<g fill="#fff"><use href="#pre" x="527" y="255"/><use href="#S65" x="587" y="255"/><use href="#S53" x="593" y="255"/><use href="#S66" x="599" y="255"/><use href="#S51" x="605" y="255"/><use href="#S52" x="611" y="255"/><use href="#S52" x="617" y="255"/></g>
<rect x="336" y="273" width="171" height="3" fill="#00c8c8"/>
<rect x="335" y="270" width="1" height="9" fill="#fff"/>
<use href="#tri" x="507" y="269"/>
<g fill="#fff"><use href="#pre" x="527" y="266"/><use href="#S81" x="587" y="266"/><use href="#S57" x="593" y="266"/><use href="#S90" x="599" y="266"/><use href="#S82" x="605" y="266"/><use href="#S66" x="611" y="266"/><use href="#S48" x="617" y="266"/></g>
<rect x="10" y="284" width="517" height="3" fill="#000033"/>
<rect x="323" y="284" width="184" height="3" fill="#00c8c8"/>
<rect x="322" y="281" width="1" height="9" fill="#fff"/>
<rect x="464" y="284" width="3" height="1" fill="#000"/><rect x="464" y="286" width="3" height="1" fill="#000"/>
<use href="#tri" x="507" y="280"/>
<g fill="#fff"><use href="#pre" x="527" y="277"/><use href="#S85" x="587" y="277"/><use href="#S80" x="593" y="277"/><use href="#S73" x="599" y="277"/><use href="#S48" x="605" y="277"/><use href="#S48" x="611" y="277"/><use href="#S48" x="617" y="277"/><use href="#S46" x="623" y="277"/><use href="#S46" x="629" y="277"/></g>
<rect x="323" y="295" width="184" height="3" fill="#00c8c8"/>
<rect x="322" y="292" width="1" height="9" fill="#fff"/>
<rect x="464" y="295" width="3" height="1" fill="#000"/><rect x="464" y="297" width="3" height="1" fill="#000"/>
<use href="#tri" x="507" y="291"/>
<g fill="#fff"><use href="#pre" x="527" y="288"/><use href="#S85" x="587" y="288"/><use href="#S80" x="593" y="288"/><use href="#S73" x="599" y="288"/><use href="#S48" x="605" y="288"/><use href="#S48" x="611" y="288"/><use href="#S48" x="617" y="288"/><use href="#S46" x="623" y="288"/><use href="#S46" x="629" y="288"/></g>
<rect x="10" y="306" width="517" height="3" fill="#000033"/>
<rect x="311" y="306" width="196" height="3" fill="#00c8c8"/>
<rect x="310" y="303" width="1" height="9" fill="#fff"/>
<use href="#tri" x="507" y="302"/>
<g fill="#fff"><use href="#pre" x="527" y="299"/><use href="#S85" x="587" y="299"/><use href="#S80" x="593" y="299"/><use href="#S73" x="599" y="299"/><use href="#S48" x="605" y="299"/><use href="#S48" x="611" y="299"/><use href="#S48" x="617" y="299"/><use href="#S46" x="623" y="299"/><use href="#S46" x="629" y="299"/></g>
<rect x="311" y="317" width="196" height="3" fill="#00c8c8"/>
<rect x="310" y="314" width="1" height="9" fill="#fff"/>
<use href="#tri" x="507" y="313"/>
<g fill="#fff"><use href="#pre" x="527" y="310"/><use href="#S81" x="587" y="310"/><use href="#S53" x="593" y="310"/><use href="#S54" x="599" y="310"/><use href="#S89" x="605" y="310"/><use href="#S87" x="611" y="310"/><use href="#S57" x="617" y="310"/></g>
<rect x="10" y="328" width="517" height="3" fill="#000033"/>
<rect x="323" y="328" width="184" height="3" fill="#00c8c8"/>
<rect x="322" y="325" width="1" height="9" fill="#fff"/>
<use href="#tri" x="507" y="324"/>
<g fill="#fff"><use href="#pre" x="527" y="321"/><use href="#S81" x="587" y="321"/><use href="#S55" x="593" y="321"/><use href="#S79" x="599" y="321"/><use href="#S83" x="605" y="321"/><use href="#S74" x="611" y="321"/><use href="#S56" x="617" y="321"/></g>
<rect x="323" y="339" width="184" height="3" fill="#00c8c8"/>
<rect x="322" y="336" width="1" height="9" fill="#fff"/>
<rect x="464" y="339" width="3" height="1" fill="#000"/><rect x="464" y="341" width="3" height="1" fill="#000"/>
<use href="#tri" x="507" y="335"/>
<g fill="#fff"><use href="#pre" x="527" y="332"/><use href="#S67" x="587" y="332"/><use href="#S51" x="593" y="332"/><use href="#S89" x="599" y="332"/><use href="#S50" x="605" y="332"/><use href="#S70" x="611" y="332"/><use href="#S53" x="617" y="332"/></g>
<rect x="10" y="350" width="517" height="3" fill="#000033"/>
<rect x="317" y="350" width="190" height="3" fill="#00c8c8"/>
<rect x="316" y="347" width="1" height="9" fill="#fff"/>
<path d="M455 353h1v2h-1zM454 355h3v2h-3z" fill="#fff080"/>
<use href="#tri" x="507" y="346"/>
<g fill="#fff"><use href="#pre" x="527" y="343"/><use href="#S80" x="587" y="343"/><use href="#S53" x="593" y="343"/><use href="#S48" x="599" y="343"/><use href="#S50" x="605" y="343"/><use href="#S54" x="611" y="343"/><use href="#S48" x="617" y="343"/></g>
<rect x="311" y="361" width="196" height="3" fill="#00c8c8"/>
<rect x="310" y="358" width="1" height="9" fill="#fff"/>
<use href="#tri" x="507" y="357"/>
<g fill="#fff"><use href="#pre" x="527" y="354"/><use href="#S80" x="587" y="354"/><use href="#S50" x="593" y="354"/><use href="#S57" x="599" y="354"/><use href="#S53" x="605" y="354"/><use href="#S49" x="611" y="354"/><use href="#S50" x="617" y="354"/></g>
<rect x="10" y="372" width="517" height="3" fill="#000033"/>
<rect x="330" y="372" width="177" height="3" fill="#00c8c8"/>
<rect x="329" y="369" width="1" height="9" fill="#fff"/>
<use href="#tri" x="507" y="368"/>
<g fill="#fff"><use href="#pre" x="527" y="365"/><use href="#S81" x="587" y="365"/><use href="#S57" x="593" y="365"/><use href="#S80" x="599" y="365"/><use href="#S85" x="605" y="365"/><use href="#S71" x="611" y="365"/><use href="#S52" x="617" y="365"/></g>
<rect x="311" y="383" width="196" height="3" fill="#00c8c8"/>
<rect x="310" y="380" width="1" height="9" fill="#fff"/>
<use href="#tri" x="507" y="379"/>
<g fill="#fff"><use href="#pre" x="527" y="376"/><use href="#S67" x="587" y="376"/><use href="#S53" x="593" y="376"/><use href="#S87" x="599" y="376"/><use href="#S77" x="605" y="376"/><use href="#S84" x="611" y="376"/><use href="#S52" x="617" y="376"/></g>
<rect x="10" y="394" width="517" height="3" fill="#000033"/>
<rect x="311" y="394" width="196" height="3" fill="#00c8c8"/>
<rect x="310" y="391" width="1" height="9" fill="#fff"/>
<use href="#tri" x="507" y="390"/>
<g fill="#fff"><use href="#pre" x="527" y="387"/><use href="#S66" x="587" y="387"/><use href="#S52" x="593" y="387"/><use href="#S70" x="599" y="387"/><use href="#S87" x="605" y="387"/><use href="#S85" x="611" y="387"/><use href="#S53" x="617" y="387"/></g>
<rect x="323" y="405" width="184" height="3" fill="#00c8c8"/>
<rect x="322" y="402" width="1" height="9" fill="#fff"/>
<use href="#tri" x="507" y="401"/>
<g fill="#fff"><use href="#pre" x="527" y="398"/><use href="#S66" x="587" y="398"/><use href="#S51" x="593" y="398"/><use href="#S82" x="599" y="398"/><use href="#S81" x="605" y="398"/><use href="#S51" x="611" y="398"/><use href="#S49" x="617" y="398"/></g>
<rect x="10" y="416" width="517" height="3" fill="#000033"/>
<rect x="311" y="416" width="196" height="3" fill="#00c8c8"/>
<rect x="310" y="413" width="1" height="9" fill="#fff"/>
<use href="#tri" x="507" y="412"/>
<g fill="#fff"><use href="#pre" x="527" y="409"/><use href="#S80" x="587" y="409"/><use href="#S49" x="593" y="409"/><use href="#S56" x="599" y="409"/><use href="#S48" x="605" y="409"/><use href="#S50" x="611" y="409"/><use href="#S53" x="617" y="409"/></g>
<rect x="336" y="427" width="171" height="3" fill="#00c8c8"/>
<rect x="335" y="424" width="1" height="9" fill="#fff"/>
<use href="#tri" x="507" y="423"/>
<g fill="#fff"><use href="#pre" x="527" y="420"/><use href="#S85" x="587" y="420"/><use href="#S80" x="593" y="420"/><use href="#S73" x="599" y="420"/><use href="#S48" x="605" y="420"/><use href="#S48" x="611" y="420"/><use href="#S48" x="617" y="420"/><use href="#S46" x="623" y="420"/><use href="#S46" x="629" y="420"/></g>
<rect x="10" y="438" width="517" height="3" fill="#000033"/>
<rect x="336" y="438" width="171" height="3" fill="#00c8c8"/>
<rect x="335" y="435" width="1" height="9" fill="#fff"/>
<use href="#tri" x="507" y="434"/>
<g fill="#fff"><use href="#pre" x="527" y="431"/><use href="#S85" x="587" y="431"/><use href="#S80" x="593" y="431"/><use href="#S73" x="599" y="431"/><use href="#S48" x="605" y="431"/><use href="#S48" x="611" y="431"/><use href="#S48" x="617" y="431"/><use href="#S46" x="623" y="431"/><use href="#S46" x="629" y="431"/></g>
<rect x="311" y="449" width="196" height="3" fill="#00c8c8"/>
<rect x="310" y="446" width="1" height="9" fill="#fff"/>
<use href="#tri" x="507" y="445"/>
<g fill="#fff"><use href="#pre" x="527" y="442"/><use href="#S81" x="587" y="442"/><use href="#S57" x="593" y="442"/><use href="#S83" x="599" y="442"/><use href="#S84" x="605" y="442"/><use href="#S68" x="611" y="442"/><use href="#S49" x="617" y="442"/></g>
<rect x="10" y="460" width="517" height="3" fill="#000033"/>
<rect x="317" y="460" width="190" height="3" fill="#00c8c8"/>
<rect x="316" y="457" width="1" height="9" fill="#fff"/>
<use href="#tri" x="507" y="456"/>
<g fill="#fff"><use href="#pre" x="527" y="453"/><use href="#S85" x="587" y="453"/><use href="#S80" x="593" y="453"/><use href="#S73" x="599" y="453"/><use href="#S48" x="605" y="453"/><use href="#S48" x="611" y="453"/><use href="#S48" x="617" y="453"/><use href="#S46" x="623" y="453"/><use href="#S46" x="629" y="453"/></g>
<rect x="311" y="471" width="196" height="3" fill="#00c8c8"/>
<rect x="310" y="468" width="1" height="9" fill="#fff"/>
<rect x="462" y="471" width="3" height="1" fill="#000"/><rect x="462" y="473" width="3" height="1" fill="#000"/>
<use href="#tri" x="507" y="467"/>
<g fill="#fff"><use href="#pre" x="527" y="464"/><use href="#S81" x="587" y="464"/><use href="#S56" x="593" y="464"/><use href="#S83" x="599" y="464"/><use href="#S52" x="605" y="464"/><use href="#S82" x="611" y="464"/><use href="#S49" x="617" y="464"/></g>
<rect x="10" y="482" width="517" height="3" fill="#000033"/>
<rect x="323" y="482" width="184" height="3" fill="#00c8c8"/>
<rect x="322" y="479" width="1" height="9" fill="#fff"/>
<use href="#tri" x="507" y="478"/>
<g fill="#fff"><use href="#pre" x="527" y="475"/><use href="#S67" x="587" y="475"/><use href="#S53" x="593" y="475"/><use href="#S88" x="599" y="475"/><use href="#S77" x="605" y="475"/><use href="#S74" x="611" y="475"/><use href="#S52" x="617" y="475"/></g>
<rect x="311" y="493" width="196" height="3" fill="#00c8c8"/>
<rect x="310" y="490" width="1" height="9" fill="#fff"/>
<use href="#tri" x="507" y="489"/>
<g fill="#fff"><use href="#pre" x="527" y="486"/><use href="#S80" x="587" y="486"/><use href="#S49" x="593" y="486"/><use href="#S56" x="599" y="486"/><use href="#S55" x="605" y="486"/><use href="#S48" x="611" y="486"/><use href="#S48" x="617" y="486"/></g>
<rect x="10" y="504" width="517" height="3" fill="#000033"/>
<rect x="311" y="504" width="196" height="3" fill="#00c8c8"/>
<rect x="310" y="501" width="1" height="9" fill="#fff"/>
<use href="#tri" x="507" y="500"/>
<g fill="#fff"><use href="#pre" x="527" y="497"/><use href="#S80" x="587" y="497"/><use href="#S49" x="593" y="497"/><use href="#S49" x="599" y="497"/><use href="#S56" x="605" y="497"/><use href="#S51" x="611" y="497"/><use href="#S51" x="617" y="497"/></g>
<rect x="311" y="515" width="196" height="3" fill="#00c8c8"/>
<rect x="310" y="512" width="1" height="9" fill="#fff"/>
<rect x="464" y="515" width="3" height="1" fill="#000"/><rect x="464" y="517" width="3" height="1" fill="#000"/>
<use href="#tri" x="507" y="511"/>
<g fill="#fff"><use href="#pre" x="527" y="508"/><use href="#S80" x="587" y="508"/><use href="#S50" x="593" y="508"/><use href="#S57" x="599" y="508"/><use href="#S53" x="605" y="508"/><use href="#S49" x="611" y="508"/><use href="#S53" x="617" y="508"/></g>
<rect x="10" y="526" width="517" height="3" fill="#000033"/>
<rect x="342" y="526" width="165" height="3" fill="#00c8c8"/>
<rect x="341" y="523" width="1" height="9" fill="#fff"/>
<use href="#tri" x="507" y="522"/>
<g fill="#fff"><use href="#pre" x="527" y="519"/><use href="#S81" x="587" y="519"/><use href="#S54" x="593" y="519"/><use href="#S53" x="599" y="519"/><use href="#S67" x="605" y="519"/><use href="#S55" x="611" y="519"/><use href="#S55" x="617" y="519"/></g>
<rect x="311" y="537" width="196" height="3" fill="#00c8c8"/>
<rect x="310" y="534" width="1" height="9" fill="#fff"/>
<use href="#tri" x="507" y="533"/>
<g fill="#fff"><use href="#pre" x="527" y="530"/><use href="#S79" x="587" y="530"/><use href="#S48" x="593" y="530"/><use href="#S51" x="599" y="530"/><use href="#S57" x="605" y="530"/><use href="#S57" x="611" y="530"/><use href="#S55" x="617" y="530"/></g>
<rect x="10" y="548" width="517" height="3" fill="#000033"/>
<rect x="317" y="548" width="190" height="3" fill="#00c8c8"/>
<rect x="316" y="545" width="1" height="9" fill="#fff"/>
<use href="#tri" x="507" y="544"/>
<g fill="#fff"><use href="#pre" x="527" y="541"/><use href="#S66" x="587" y="541"/><use href="#S57" x="593" y="541"/><use href="#S72" x="599" y="541"/><use href="#S56" x="605" y="541"/><use href="#S83" x="611" y="541"/><use href="#S51" x="617" y="541"/></g>
<rect x="323" y="559" width="184" height="3" fill="#00c8c8"/>
<rect x="322" y="556" width="1" height="9" fill="#fff"/>
<use href="#tri" x="507" y="555"/>
<g fill="#fff"><use href="#pre" x="527" y="552"/><use href="#S66" x="587" y="552"/><use href="#S57" x="593" y="552"/><use href="#S71" x="599" y="552"/><use href="#S75" x="605" y="552"/><use href="#S74" x="611" y="552"/><use href="#S53" x="617" y="552"/></g>
<rect x="10" y="570" width="517" height="3" fill="#000033"/>
<rect x="317" y="570" width="190" height="3" fill="#00c8c8"/>
<rect x="316" y="567" width="1" height="9" fill="#fff"/>
<use href="#tri" x="507" y="566"/>
<g fill="#fff"><use href="#pre" x="527" y="563"/><use href="#S65" x="587" y="563"/><use href="#S57" x="593" y="563"/><use href="#S80" x="599" y="563"/><use href="#S56" x="605" y="563"/><use href="#S83" x="611" y="563"/><use href="#S55" x="617" y="563"/></g>
<rect x="342" y="581" width="165" height="3" fill="#00c8c8"/>
<rect x="341" y="578" width="1" height="9" fill="#fff"/>
<use href="#tri" x="507" y="577"/>
<g fill="#fff"><use href="#pre" x="527" y="574"/><use href="#S65" x="587" y="574"/><use href="#S55" x="593" y="574"/><use href="#S78" x="599" y="574"/><use href="#S89" x="605" y="574"/><use href="#S78" x="611" y="574"/><use href="#S51" x="617" y="574"/></g>
<rect x="10" y="592" width="517" height="3" fill="#000033"/>
<rect x="323" y="592" width="184" height="3" fill="#00c8c8"/>
<rect x="322" y="589" width="1" height="9" fill="#fff"/>
<use href="#tri" x="507" y="588"/>
<g fill="#fff"><use href="#pre" x="527" y="585"/><use href="#S65" x="587" y="585"/><use href="#S54" x="593" y="585"/><use href="#S89" x="599" y="585"/><use href="#S73" x="605" y="585"/><use href="#S75" x="611" y="585"/><use href="#S57" x="617" y="585"/></g>
<rect x="305" y="603" width="202" height="3" fill="#00c8c8"/>
<rect x="304" y="600" width="1" height="9" fill="#fff"/>
<rect x="462" y="603" width="3" height="1" fill="#000"/><rect x="462" y="605" width="3" height="1" fill="#000"/>
<use href="#tri" x="507" y="599"/>
<g fill="#fff"><use href="#pre" x="527" y="596"/><use href="#S81" x="587" y="596"/><use href="#S54" x="593" y="596"/><use href="#S84" x="599" y="596"/><use href="#S76" x="605" y="596"/><use href="#S50" x="611" y="596"/><use href="#S56" x="617" y="596"/></g>
<rect x="10" y="614" width="517" height="3" fill="#000033"/>
<rect x="323" y="614" width="184" height="3" fill="#00c8c8"/>
<rect x="322" y="611" width="1" height="9" fill="#fff"/>
<rect x="464" y="614" width="3" height="1" fill="#000"/><rect x="464" y="616" width="3" height="1" fill="#000"/>
<use href="#tri" x="507" y="610"/>
<g fill="#fff"><use href="#pre" x="527" y="607"/><use href="#S65" x="587" y="607"/><use href="#S55" x="593" y="607"/><use href="#S83" x="599" y="607"/><use href="#S56" x="605" y="607"/><use href="#S73" x="611" y="607"/><use href="#S51" x="617" y="607"/></g>
<rect x="311" y="625" width="196" height="3" fill="#00c8c8"/>
<rect x="310" y="622" width="1" height="9" fill="#fff"/>
<use href="#tri" x="507" y="621"/>
<g fill="#fff"><use href="#pre" x="527" y="618"/><use href="#S85" x="587" y="618"/><use href="#S80" x="593" y="618"/><use href="#S73" x="599" y="618"/><use href="#S48" x="605" y="618"/><use href="#S48" x="611" y="618"/><use href="#S48" x="617" y="618"/><use href="#S46" x="623" y="618"/><use href="#S46" x="629" y="618"/></g>
<rect x="10" y="636" width="517" height="3" fill="#000033"/>
<rect x="336" y="636" width="171" height="3" fill="#00c8c8"/>
<rect x="335" y="633" width="1" height="9" fill="#fff"/>
<use href="#tri" x="507" y="632"/>
<g fill="#fff"><use href="#pre" x="527" y="629"/><use href="#S85" x="587" y="629"/><use href="#S80" x="593" y="629"/><use href="#S73" x="599" y="629"/><use href="#S48" x="605" y="629"/><use href="#S48" x="611" y="629"/><use href="#S48" x="617" y="629"/><use href="#S46" x="623" y="629"/><use href="#S46" x="629" y="629"/></g>
<rect x="311" y="647" width="196" height="3" fill="#00c8c8"/>
<rect x="310" y="644" width="1" height="9" fill="#fff"/>
<use href="#tri" x="507" y="643"/>
<g fill="#fff"><use href="#pre" x="527" y="640"/><use href="#S81" x="587" y="640"/><use href="#S54" x="593" y="640"/><use href="#S53" x="599" y="640"/><use href="#S67" x="605" y="640"/><use href="#S55" x="611" y="640"/><use href="#S54" x="617" y="640"/></g>
<rect x="10" y="658" width="517" height="3" fill="#000033"/>
<rect x="336" y="658" width="171" height="3" fill="#00c8c8"/>
<rect x="335" y="655" width="1" height="9" fill="#fff"/>
<use href="#tri" x="507" y="654"/>
<g fill="#fff"><use href="#pre" x="527" y="651"/><use href="#S79" x="587" y="651"/><use href="#S49" x="593" y="651"/><use href="#S56" x="599" y="651"/><use href="#S51" x="605" y="651"/><use href="#S52" x="611" y="651"/><use href="#S50" x="617" y="651"/></g>
<rect x="336" y="669" width="171" height="3" fill="#00c8c8"/>
<rect x="335" y="666" width="1" height="9" fill="#fff"/>
<use href="#tri" x="507" y="665"/>
<g fill="#fff"><use href="#pre" x="527" y="662"/><use href="#S66" x="587" y="662"/><use href="#S57" x="593" y="662"/><use href="#S82" x="599" y="662"/><use href="#S67" x="605" y="662"/><use href="#S57" x="611" y="662"/><use href="#S54" x="617" y="662"/></g>
<rect x="10" y="680" width="517" height="3" fill="#000033"/>
<rect x="336" y="680" width="171" height="3" fill="#00c8c8"/>
<rect x="335" y="677" width="1" height="9" fill="#fff"/>
<use href="#tri" x="507" y="676"/>
<g fill="#fff"><use href="#pre" x="527" y="673"/><use href="#S81" x="587" y="673"/><use href="#S57" x="593" y="673"/><use href="#S90" x="599" y="673"/><use href="#S82" x="605" y="673"/><use href="#S66" x="611" y="673"/><use href="#S50" x="617" y="673"/></g>
<rect x="336" y="691" width="171" height="3" fill="#00c8c8"/>
<rect x="335" y="688" width="1" height="9" fill="#fff"/>
<use href="#tri" x="507" y="687"/>
<g fill="#fff"><use href="#pre" x="527" y="684"/><use href="#S81" x="587" y="684"/><use href="#S56" x="593" y="684"/><use href="#S71" x="599" y="684"/><use href="#S89" x="605" y="684"/><use href="#S49" x="611" y="684"/><use href="#S53" x="617" y="684"/></g>
<rect x="10" y="702" width="517" height="3" fill="#000033"/>
<rect x="336" y="702" width="171" height="3" fill="#00c8c8"/>
<rect x="335" y="699" width="1" height="9" fill="#fff"/>
<use href="#tri" x="507" y="698"/>
<g fill="#fff"><use href="#pre" x="527" y="695"/><use href="#S67" x="587" y="695"/><use href="#S53" x="593" y="695"/><use href="#S88" x="599" y="695"/><use href="#S86" x="605" y="695"/><use href="#S73" x="611" y="695"/><use href="#S56" x="617" y="695"/></g>
<rect x="342" y="713" width="165" height="3" fill="#00c8c8"/>
<rect x="341" y="710" width="1" height="9" fill="#fff"/>
<use href="#tri" x="507" y="709"/>
<g fill="#fff"><use href="#pre" x="527" y="706"/><use href="#S66" x="587" y="706"/><use href="#S57" x="593" y="706"/><use href="#S70" x="599" y="706"/><use href="#S65" x="605" y="706"/><use href="#S66" x="611" y="706"/><use href="#S53" x="617" y="706"/></g>
<rect x="10" y="724" width="517" height="3" fill="#000033"/>
<rect x="342" y="724" width="165" height="3" fill="#00c8c8"/>
<rect x="341" y="721" width="1" height="9" fill="#fff"/>
<use href="#tri" x="507" y="720"/>
<g fill="#fff"><use href="#pre" x="527" y="717"/><use href="#S66" x="587" y="717"/><use href="#S56" x="593" y="717"/><use href="#S65" x="599" y="717"/><use href="#S76" x="605" y="717"/><use href="#S71" x="611" y="717"/><use href="#S54" x="617" y="717"/></g>
<rect x="311" y="735" width="196" height="3" fill="#00c8c8"/>
<rect x="310" y="732" width="1" height="9" fill="#fff"/>
<rect x="462" y="735" width="3" height="1" fill="#000"/><rect x="462" y="737" width="3" height="1" fill="#000"/>
<use href="#tri" x="507" y="731"/>
<g fill="#fff"><use href="#pre" x="527" y="728"/><use href="#S65" x="587" y="728"/><use href="#S56" x="593" y="728"/><use href="#S73" x="599" y="728"/><use href="#S49" x="605" y="728"/><use href="#S87" x="611" y="728"/><use href="#S57" x="617" y="728"/></g>
<rect x="10" y="746" width="517" height="3" fill="#000033"/>
<rect x="311" y="746" width="196" height="3" fill="#00c8c8"/>
<rect x="310" y="743" width="1" height="9" fill="#fff"/>
<rect x="462" y="746" width="3" height="1" fill="#000"/><rect x="462" y="748" width="3" height="1" fill="#000"/>
<use href="#tri" x="507" y="742"/>
<g fill="#fff"><use href="#pre" x="527" y="739"/><use href="#S65" x="587" y="739"/><use href="#S55" x="593" y="739"/><use href="#S85" x="599" y="739"/><use href="#S76" x="605" y="739"/><use href="#S70" x="611" y="739"/><use href="#S54" x="617" y="739"/></g>
<rect x="342" y="757" width="165" height="3" fill="#00c8c8"/>
<rect x="341" y="754" width="1" height="9" fill="#fff"/>
<use href="#tri" x="507" y="753"/>
<g fill="#fff"><use href="#pre" x="527" y="750"/><use href="#S81" x="587" y="750"/><use href="#S57" x="593" y="750"/><use href="#S53" x="599" y="750"/><use href="#S85" x="605" y="750"/><use href="#S85" x="611" y="750"/><use href="#S49" x="617" y="750"/></g>
<rect x="10" y="768" width="517" height="3" fill="#000033"/>
<rect x="311" y="768" width="196" height="3" fill="#00c8c8"/>
<rect x="310" y="765" width="1" height="9" fill="#fff"/>
<use href="#tri" x="507" y="764"/>
<g fill="#fff"><use href="#pre" x="527" y="761"/><use href="#S81" x="587" y="761"/><use href="#S56" x="593" y="761"/><use href="#S54" x="599" y="761"/><use href="#S68" x="605" y="761"/><use href="#S56" x="611" y="761"/><use href="#S50" x="617" y="761"/></g>
<rect x="311" y="779" width="196" height="3" fill="#00c8c8"/>
<rect x="310" y="776" width="1" height="9" fill="#fff"/>
<use href="#tri" x="507" y="775"/>
<g fill="#fff"><use href="#pre" x="527" y="772"/><use href="#S81" x="587" y="772"/><use href="#S50" x="593" y="772"/><use href="#S70" x="599" y="772"/><use href="#S54" x="605" y="772"/><use href="#S70" x="611" y="772"/><use href="#S49" x="617" y="772"/></g>
<rect x="10" y="790" width="517" height="3" fill="#000033"/>
<rect x="311" y="790" width="196" height="3" fill="#00c8c8"/>
<rect x="310" y="787" width="1" height="9" fill="#fff"/>
<rect x="462" y="790" width="3" height="1" fill="#000"/><rect x="462" y="792" width="3" height="1" fill="#000"/>
<use href="#tri" x="507" y="786"/>
<g fill="#fff"><use href="#pre" x="527" y="783"/><use href="#S67" x="587" y="783"/><use href="#S53" x="593" y="783"/><use href="#S76" x="599" y="783"/><use href="#S81" x="605" y="783"/><use href="#S54" x="611" y="783"/><use href="#S52" x="617" y="783"/></g>
<rect x="311" y="801" width="196" height="3" fill="#00c8c8"/>
<rect x="310" y="798" width="1" height="9" fill="#fff"/>
<rect x="462" y="801" width="3" height="1" fill="#000"/><rect x="462" y="803" width="3" height="1" fill="#000"/>
<use href="#tri" x="507" y="797"/>
<g fill="#fff"><use href="#pre" x="527" y="794"/><use href="#S67" x="587" y="794"/><use href="#S53" x="593" y="794"/><use href="#S76" x="599" y="794"/><use href="#S78" x="605" y="794"/><use href="#S75" x="611" y="794"/><use href="#S53" x="617" y="794"/></g>
<rect x="10" y="812" width="517" height="3" fill="#000033"/>
<rect x="311" y="812" width="196" height="3" fill="#00c8c8"/>
<rect x="310" y="809" width="1" height="9" fill="#fff"/>
<rect x="462" y="812" width="3" height="1" fill="#000"/><rect x="462" y="814" width="3" height="1" fill="#000"/>
<use href="#tri" x="507" y="808"/>
<g fill="#fff"><use href="#pre" x="527" y="805"/><use href="#S67" x="587" y="805"/><use href="#S53" x="593" y="805"/><use href="#S76" x="599" y="805"/><use href="#S77" x="605" y="805"/><use href="#S78" x="611" y="805"/><use href="#S52" x="617" y="805"/></g>
<rect x="311" y="823" width="196" height="3" fill="#00c8c8"/>
<rect x="310" y="820" width="1" height="9" fill="#fff"/>
<rect x="462" y="823" width="3" height="1" fill="#000"/><rect x="462" y="825" width="3" height="1" fill="#000"/>
<use href="#tri" x="507" y="819"/>
<g fill="#fff"><use href="#pre" x="527" y="816"/><use href="#S67" x="587" y="816"/><use href="#S53" x="593" y="816"/><use href="#S75" x="599" y="816"/><use href="#S73" x="605" y="816"/><use href="#S69" x="611" y="816"/><use href="#S49" x="617" y="816"/></g>
<rect x="10" y="834" width="517" height="3" fill="#000033"/>
<rect x="311" y="834" width="196" height="3" fill="#00c8c8"/>
<rect x="310" y="831" width="1" height="9" fill="#fff"/>
<rect x="462" y="834" width="3" height="1" fill="#000"/><rect x="462" y="836" width="3" height="1" fill="#000"/>
<use href="#tri" x="507" y="830"/>
<g fill="#fff"><use href="#pre" x="527" y="827"/><use href="#S67" x="587" y="827"/><use href="#S53" x="593" y="827"/><use href="#S75" x="599" y="827"/><use href="#S69" x="605" y="827"/><use href="#S78" x="611" y="827"/><use href="#S51" x="617" y="827"/></g>
<rect x="311" y="845" width="196" height="3" fill="#00c8c8"/>
<rect x="310" y="842" width="1" height="9" fill="#fff"/>
<rect x="462" y="845" width="3" height="1" fill="#000"/><rect x="462" y="847" width="3" height="1" fill="#000"/>
<use href="#tri" x="507" y="841"/>
<g fill="#fff"><use href="#pre" x="527" y="838"/><use href="#S67" x="587" y="838"/><use href="#S53" x="593" y="838"/><use href="#S75" x="599" y="838"/><use href="#S57" x="605" y="838"/><use href="#S72" x="611" y="838"/><use href="#S54" x="617" y="838"/></g>
<rect x="10" y="856" width="517" height="3" fill="#000033"/>
<rect x="323" y="856" width="184" height="3" fill="#00c8c8"/>
<rect x="322" y="853" width="1" height="9" fill="#fff"/>
<use href="#tri" x="507" y="852"/>
<g fill="#fff"><use href="#pre" x="527" y="849"/><use href="#S66" x="587" y="849"/><use href="#S52" x="593" y="849"/><use href="#S71" x="599" y="849"/><use href="#S80" x="605" y="849"/><use href="#S53" x="611" y="849"/><use href="#S57" x="617" y="849"/></g>
<rect x="342" y="867" width="165" height="3" fill="#00c8c8"/>
<rect x="341" y="864" width="1" height="9" fill="#fff"/>
<use href="#tri" x="507" y="863"/>
<g fill="#fff"><use href="#pre" x="527" y="860"/><use href="#S65" x="587" y="860"/><use href="#S57" x="593" y="860"/><use href="#S85" x="599" y="860"/><use href="#S84" x="605" y="860"/><use href="#S84" x="611" y="860"/><use href="#S52" x="617" y="860"/></g>
<rect x="10" y="878" width="517" height="3" fill="#000033"/>
<rect x="342" y="878" width="165" height="3" fill="#00c8c8"/>
<rect x="341" y="875" width="1" height="9" fill="#fff"/>
<use href="#tri" x="507" y="874"/>
<g fill="#fff"><use href="#pre" x="527" y="871"/><use href="#S65" x="587" y="871"/><use href="#S55" x="593" y="871"/><use href="#S83" x="599" y="871"/><use href="#S74" x="605" y="871"/><use href="#S89" x="611" y="871"/><use href="#S48" x="617" y="871"/></g>
<rect x="342" y="889" width="165" height="3" fill="#00c8c8"/>
<rect x="341" y="886" width="1" height="9" fill="#fff"/>
<use href="#tri" x="507" y="885"/>
<g fill="#fff"><use href="#pre" x="527" y="882"/><use href="#S65" x="587" y="882"/><use href="#S55" x="593" y="882"/><use href="#S83" x="599" y="882"/><use href="#S74" x="605" y="882"/><use href="#S88" x="611" y="882"/><use href="#S57" x="617" y="882"/></g>
<rect x="10" y="900" width="517" height="3" fill="#000033"/>
<rect x="342" y="900" width="165" height="3" fill="#00c8c8"/>
<rect x="341" y="897" width="1" height="9" fill="#fff"/>
<use href="#tri" x="507" y="896"/>
<g fill="#fff"><use href="#pre" x="527" y="893"/><use href="#S65" x="587" y="893"/><use href="#S55" x="593" y="893"/><use href="#S83" x="599" y="893"/><use href="#S72" x="605" y="893"/><use href="#S89" x="611" y="893"/><use href="#S52" x="617" y="893"/></g>
<rect x="342" y="911" width="165" height="3" fill="#00c8c8"/>
<rect x="341" y="908" width="1" height="9" fill="#fff"/>
<use href="#tri" x="507" y="907"/>
<g fill="#fff"><use href="#pre" x="527" y="904"/><use href="#S65" x="587" y="904"/><use href="#S55" x="593" y="904"/><use href="#S83" x="599" y="904"/><use href="#S48" x="605" y="904"/><use href="#S50" x="611" y="904"/><use href="#S55" x="617" y="904"/></g>
<rect x="10" y="922" width="517" height="3" fill="#000033"/>
<rect x="323" y="922" width="184" height="3" fill="#00c8c8"/>
<rect x="322" y="919" width="1" height="9" fill="#fff"/>
<use href="#tri" x="507" y="918"/>
<g fill="#fff"><use href="#pre" x="527" y="915"/><use href="#S80" x="587" y="915"/><use href="#S57" x="593" y="915"/><use href="#S51" x="599" y="915"/><use href="#S49" x="605" y="915"/><use href="#S55" x="611" y="915"/><use href="#S54" x="617" y="915"/></g>
<rect x="336" y="933" width="171" height="3" fill="#00c8c8"/>
<rect x="335" y="930" width="1" height="9" fill="#fff"/>
<use href="#tri" x="507" y="929"/>
<g fill="#fff"><use href="#pre" x="527" y="926"/><use href="#S80" x="587" y="926"/><use href="#S50" x="593" y="926"/><use href="#S57" x="599" y="926"/><use href="#S53" x="605" y="926"/><use href="#S49" x="611" y="926"/><use href="#S52" x="617" y="926"/></g>
<rect x="10" y="944" width="517" height="3" fill="#000033"/>
<rect x="336" y="944" width="171" height="3" fill="#00c8c8"/>
<rect x="335" y="941" width="1" height="9" fill="#fff"/>
<use href="#tri" x="507" y="940"/>
<g fill="#fff"><use href="#pre" x="527" y="937"/><use href="#S81" x="587" y="937"/><use href="#S57" x="593" y="937"/><use href="#S90" x="599" y="937"/><use href="#S80" x="605" y="937"/><use href="#S78" x="611" y="937"/><use href="#S56" x="617" y="937"/></g>
<rect x="342" y="955" width="165" height="3" fill="#00c8c8"/>
<rect x="341" y="952" width="1" height="9" fill="#fff"/>
<use href="#tri" x="507" y="951"/>
<g fill="#fff"><use href="#pre" x="527" y="948"/><use href="#S81" x="587" y="948"/><use href="#S56" x="593" y="948"/><use href="#S72" x="599" y="948"/><use href="#S55" x="605" y="948"/><use href="#S85" x="611" y="948"/><use href="#S49" x="617" y="948"/></g>
<rect x="10" y="966" width="517" height="3" fill="#000033"/>
<rect x="323" y="966" width="184" height="3" fill="#00c8c8"/>
<rect x="322" y="963" width="1" height="9" fill="#fff"/>
<use href="#tri" x="507" y="962"/>
<g fill="#fff"><use href="#pre" x="527" y="959"/><use href="#S80" x="587" y="959"/><use href="#S54" x="593" y="959"/><use href="#S49" x="599" y="959"/><use href="#S56" x="605" y="959"/><use href="#S53" x="611" y="959"/><use href="#S55" x="617" y="959"/></g>
<rect x="323" y="977" width="184" height="3" fill="#00c8c8"/>
<rect x="322" y="974" width="1" height="9" fill="#fff"/>
<use href="#tri" x="507" y="973"/>
<g fill="#fff"><use href="#pre" x="527" y="970"/><use href="#S80" x="587" y="970"/><use href="#S56" x="593" y="970"/><use href="#S51" x="599" y="970"/><use href="#S49" x="605" y="970"/><use href="#S51" x="611" y="970"/><use href="#S48" x="617" y="970"/></g>
<rect x="10" y="988" width="517" height="3" fill="#000033"/>
<rect x="342" y="988" width="165" height="3" fill="#00c8c8"/>
<rect x="341" y="985" width="1" height="9" fill="#fff"/>
<use href="#tri" x="507" y="984"/>
<g fill="#fff"><use href="#pre" x="527" y="981"/><use href="#S80" x="587" y="981"/><use href="#S50" x="593" y="981"/><use href="#S53" x="599" y="981"/><use href="#S56" x="605" y="981"/><use href="#S54" x="611" y="981"/><use href="#S50" x="617" y="981"/></g>
<rect x="336" y="999" width="171" height="3" fill="#00c8c8"/>
<rect x="335" y="996" width="1" height="9" fill="#fff"/>
<use href="#tri" x="507" y="995"/>
<g fill="#fff"><use href="#pre" x="527" y="992"/><use href="#S85" x="587" y="992"/><use href="#S80" x="593" y="992"/><use href="#S73" x="599" y="992"/><use href="#S48" x="605" y="992"/><use href="#S48" x="611" y="992"/><use href="#S48" x="617" y="992"/><use href="#S46" x="623" y="992"/><use href="#S46" x="629" y="992"/></g>
<rect x="10" y="1010" width="517" height="3" fill="#000033"/>
<rect x="336" y="1010" width="171" height="3" fill="#00c8c8"/>
<rect x="335" y="1007" width="1" height="9" fill="#fff"/>
<use href="#tri" x="507" y="1006"/>
<g fill="#fff"><use href="#pre" x="527" y="1003"/><use href="#S85" x="587" y="1003"/><use href="#S80" x="593" y="1003"/><use href="#S73" x="599" y="1003"/><use href="#S48" x="605" y="1003"/><use href="#S48" x="611" y="1003"/><use href="#S48" x="617" y="1003"/><use href="#S46" x="623" y="1003"/><use href="#S46" x="629" y="1003"/></g>
<rect x="323" y="1021" width="184" height="3" fill="#00c8c8"/>
<rect x="322" y="1018" width="1" height="9" fill="#fff"/>
<use href="#tri" x="507" y="1017"/>
<g fill="#fff"><use href="#pre" x="527" y="1014"/><use href="#S65" x="587" y="1014"/><use href="#S55" x="593" y="1014"/><use href="#S81" x="599" y="1014"/><use href="#S73" x="605" y="1014"/><use href="#S85" x="611" y="1014"/><use href="#S49" x="617" y="1014"/></g>
<rect x="10" y="1032" width="517" height="3" fill="#000033"/>
<rect x="311" y="1032" width="196" height="3" fill="#00c8c8"/>
<rect x="310" y="1029" width="1" height="9" fill="#fff"/>
<use href="#tri" x="507" y="1028"/>
<g fill="#fff"><use href="#pre" x="527" y="1025"/><use href="#S65" x="587" y="1025"/><use href="#S53" x="593" y="1025"/><use href="#S67" x="599" y="1025"/><use href="#S70" x="605" y="1025"/><use href="#S89" x="611" y="1025"/><use href="#S56" x="617" y="1025"/></g>
<rect x="330" y="1043" width="177" height="3" fill="#00c8c8"/>
<rect x="329" y="1040" width="1" height="9" fill="#fff"/>
<use href="#tri" x="507" y="1039"/>
<g fill="#fff"><use href="#pre" x="527" y="1036"/><use href="#S81" x="587" y="1036"/><use href="#S57" x="593" y="1036"/><use href="#S52" x="599" y="1036"/><use href="#S53" x="605" y="1036"/><use href="#S56" x="611" y="1036"/><use href="#S54" x="617" y="1036"/></g>
<rect x="10" y="1054" width="517" height="3" fill="#000033"/>
<rect x="330" y="1054" width="177" height="3" fill="#00c8c8"/>
<rect x="329" y="1051" width="1" height="9" fill="#fff"/>
<path d="M461 1057h1v2h-1zM460 1059h3v2h-3z" fill="#fff080"/>
<use href="#tri" x="507" y="1050"/>
<g fill="#fff"><use href="#pre" x="527" y="1047"/><use href="#S81" x="587" y="1047"/><use href="#S50" x="593" y="1047"/><use href="#S54" x="599" y="1047"/><use href="#S49" x="605" y="1047"/><use href="#S54" x="611" y="1047"/><use href="#S53" x="617" y="1047"/></g>
<rect x="336" y="1065" width="171" height="3" fill="#00c8c8"/>
<rect x="335" y="1062" width="1" height="9" fill="#fff"/>
<use href="#tri" x="507" y="1061"/>
<g fill="#fff"><use href="#pre" x="527" y="1058"/><use href="#S65" x="587" y="1058"/><use href="#S57" x="593" y="1058"/><use href="#S67" x="599" y="1058"/><use href="#S84" x="605" y="1058"/><use href="#S65" x="611" y="1058"/><use href="#S53" x="617" y="1058"/></g>
<rect x="10" y="1076" width="517" height="3" fill="#000033"/>
<rect x="311" y="1076" width="196" height="3" fill="#00c8c8"/>
<rect x="310" y="1073" width="1" height="9" fill="#fff"/>
<use href="#tri" x="507" y="1072"/>
<g fill="#fff"><use href="#pre" x="527" y="1069"/><use href="#S81" x="587" y="1069"/><use href="#S57" x="593" y="1069"/><use href="#S90" x="599" y="1069"/><use href="#S82" x="605" y="1069"/><use href="#S65" x="611" y="1069"/><use href="#S57" x="617" y="1069"/></g>
<rect x="336" y="1087" width="171" height="3" fill="#00c8c8"/>
<rect x="335" y="1084" width="1" height="9" fill="#fff"/>
<use href="#tri" x="507" y="1083"/>
<g fill="#fff"><use href="#pre" x="527" y="1080"/><use href="#S85" x="587" y="1080"/><use href="#S80" x="593" y="1080"/><use href="#S73" x="599" y="1080"/><use href="#S48" x="605" y="1080"/><use href="#S48" x="611" y="1080"/><use href="#S48" x="617" y="1080"/><use href="#S46" x="623" y="1080"/><use href="#S46" x="629" y="1080"/></g>
<rect x="10" y="1098" width="517" height="3" fill="#000033"/>
<rect x="336" y="1098" width="171" height="3" fill="#00c8c8"/>
<rect x="335" y="1095" width="1" height="9" fill="#fff"/>
<use href="#tri" x="507" y="1094"/>
<g fill="#fff"><use href="#pre" x="527" y="1091"/><use href="#S85" x="587" y="1091"/><use href="#S80" x="593" y="1091"/><use href="#S73" x="599" y="1091"/><use href="#S48" x="605" y="1091"/><use href="#S48" x="611" y="1091"/><use href="#S48" x="617" y="1091"/><use href="#S46" x="623" y="1091"/><use href="#S46" x="629" y="1091"/></g>
<rect x="336" y="1109" width="171" height="3" fill="#00c8c8"/>
<rect x="335" y="1106" width="1" height="9" fill="#fff"/>
<use href="#tri" x="507" y="1105"/>
<g fill="#fff"><use href="#pre" x="527" y="1102"/><use href="#S81" x="587" y="1102"/><use href="#S57" x="593" y="1102"/><use href="#S54" x="599" y="1102"/><use href="#S52" x="605" y="1102"/><use href="#S49" x="611" y="1102"/><use href="#S52" x="617" y="1102"/></g>
<rect x="10" y="1120" width="517" height="3" fill="#000033"/>
<rect x="342" y="1120" width="165" height="3" fill="#00c8c8"/>
<rect x="341" y="1117" width="1" height="9" fill="#fff"/>
<use href="#tri" x="507" y="1116"/>
<g fill="#fff"><use href="#pre" x="527" y="1113"/><use href="#S81" x="587" y="1113"/><use href="#S56" x="593" y="1113"/><use href="#S71" x="599" y="1113"/><use href="#S90" x="605" y="1113"/><use href="#S49" x="611" y="1113"/><use href="#S54" x="617" y="1113"/></g>
<rect x="336" y="1131" width="171" height="3" fill="#00c8c8"/>
<rect x="335" y="1128" width="1" height="9" fill="#fff"/>
<use href="#tri" x="507" y="1127"/>
<g fill="#fff"><use href="#pre" x="527" y="1124"/><use href="#S81" x="587" y="1124"/><use href="#S51" x="593" y="1124"/><use href="#S56" x="599" y="1124"/><use href="#S77" x="605" y="1124"/><use href="#S56" x="611" y="1124"/><use href="#S48" x="617" y="1124"/></g>
<rect x="10" y="1142" width="517" height="3" fill="#000033"/>
<rect x="323" y="1142" width="184" height="3" fill="#00c8c8"/>
<rect x="322" y="1139" width="1" height="9" fill="#fff"/>
<use href="#tri" x="507" y="1138"/>
<g fill="#fff"><use href="#pre" x="527" y="1135"/><use href="#S65" x="587" y="1135"/><use href="#S57" x="593" y="1135"/><use href="#S80" x="599" y="1135"/><use href="#S72" x="605" y="1135"/><use href="#S86" x="611" y="1135"/><use href="#S53" x="617" y="1135"/></g>
<rect x="323" y="1153" width="184" height="3" fill="#00c8c8"/>
<rect x="322" y="1150" width="1" height="9" fill="#fff"/>
<use href="#tri" x="507" y="1149"/>
<g fill="#fff"><use href="#pre" x="527" y="1146"/><use href="#S65" x="587" y="1146"/><use href="#S57" x="593" y="1146"/><use href="#S80" x="599" y="1146"/><use href="#S70" x="605" y="1146"/><use href="#S48" x="611" y="1146"/><use href="#S56" x="617" y="1146"/></g>
<rect x="10" y="1164" width="517" height="3" fill="#000033"/>
<rect x="336" y="1164" width="171" height="3" fill="#00c8c8"/>
<rect x="335" y="1161" width="1" height="9" fill="#fff"/>
<use href="#tri" x="507" y="1160"/>
<g fill="#fff"><use href="#pre" x="527" y="1157"/><use href="#S65" x="587" y="1157"/><use href="#S57" x="593" y="1157"/><use href="#S80" x="599" y="1157"/><use href="#S54" x="605" y="1157"/><use href="#S81" x="611" y="1157"/><use href="#S48" x="617" y="1157"/></g>
<rect x="323" y="1175" width="184" height="3" fill="#00c8c8"/>
<rect x="322" y="1172" width="1" height="9" fill="#fff"/>
<use href="#tri" x="507" y="1171"/>
<g fill="#fff"><use href="#pre" x="527" y="1168"/><use href="#S65" x="587" y="1168"/><use href="#S54" x="593" y="1168"/><use href="#S89" x="599" y="1168"/><use href="#S73" x="605" y="1168"/><use href="#S77" x="611" y="1168"/><use href="#S48" x="617" y="1168"/></g>
<rect x="10" y="1186" width="517" height="3" fill="#000033"/>
<rect x="336" y="1186" width="171" height="3" fill="#00c8c8"/>
<rect x="335" y="1183" width="1" height="9" fill="#fff"/>
<use href="#tri" x="507" y="1182"/>
<g fill="#fff"><use href="#pre" x="527" y="1179"/><use href="#S65" x="587" y="1179"/><use href="#S53" x="593" y="1179"/><use href="#S67" x="599" y="1179"/><use href="#S70" x="605" y="1179"/><use href="#S89" x="611" y="1179"/><use href="#S57" x="617" y="1179"/></g>
<rect x="336" y="1197" width="171" height="3" fill="#00c8c8"/>
<rect x="335" y="1194" width="1" height="9" fill="#fff"/>
<use href="#tri" x="507" y="1193"/>
<g fill="#fff"><use href="#pre" x="527" y="1190"/><use href="#S65" x="587" y="1190"/><use href="#S53" x="593" y="1190"/><use href="#S67" x="599" y="1190"/><use href="#S70" x="605" y="1190"/><use href="#S89" x="611" y="1190"/><use href="#S53" x="617" y="1190"/></g>
<rect x="10" y="1208" width="517" height="3" fill="#000033"/>
<rect x="311" y="1208" width="196" height="3" fill="#00c8c8"/>
<rect x="310" y="1205" width="1" height="9" fill="#fff"/>
<rect x="462" y="1208" width="3" height="1" fill="#000"/><rect x="462" y="1210" width="3" height="1" fill="#000"/>
<use href="#tri" x="507" y="1204"/>
<g fill="#fff"><use href="#pre" x="527" y="1201"/><use href="#S81" x="587" y="1201"/><use href="#S57" x="593" y="1201"/><use href="#S84" x="599" y="1201"/><use href="#S89" x="605" y="1201"/><use href="#S55" x="611" y="1201"/><use href="#S55" x="617" y="1201"/></g>
<rect x="311" y="1219" width="196" height="3" fill="#00c8c8"/>
<rect x="310" y="1216" width="1" height="9" fill="#fff"/>
<rect x="464" y="1219" width="3" height="1" fill="#000"/><rect x="464" y="1221" width="3" height="1" fill="#000"/>
<use href="#tri" x="507" y="1215"/>
<g fill="#fff"><use href="#pre" x="527" y="1212"/><use href="#S81" x="587" y="1212"/><use href="#S55" x="593" y="1212"/><use href="#S82" x="599" y="1212"/><use href="#S67" x="605" y="1212"/><use href="#S82" x="611" y="1212"/><use href="#S54" x="617" y="1212"/></g>
<rect x="10" y="1230" width="517" height="3" fill="#000033"/>
<rect x="311" y="1230" width="196" height="3" fill="#00c8c8"/>
<rect x="310" y="1227" width="1" height="9" fill="#fff"/>
<rect x="464" y="1230" width="3" height="1" fill="#000"/><rect x="464" y="1232" width="3" height="1" fill="#000"/>
<use href="#tri" x="507" y="1226"/>
<g fill="#fff"><use href="#pre" x="527" y="1223"/><use href="#S81" x="587" y="1223"/><use href="#S50" x="593" y="1223"/><use href="#S53" x="599" y="1223"/><use href="#S55" x="605" y="1223"/><use href="#S57" x="611" y="1223"/><use href="#S50" x="617" y="1223"/></g>
<rect x="336" y="1241" width="171" height="3" fill="#00c8c8"/>
<rect x="335" y="1238" width="1" height="9" fill="#fff"/>
<use href="#tri" x="507" y="1237"/>
<g fill="#fff"><use href="#pre" x="527" y="1234"/><use href="#S67" x="587" y="1234"/><use href="#S51" x="593" y="1234"/><use href="#S89" x="599" y="1234"/><use href="#S77" x="605" y="1234"/><use href="#S70" x="611" y="1234"/><use href="#S49" x="617" y="1234"/></g>
<rect x="10" y="1252" width="517" height="3" fill="#000033"/>
<rect x="336" y="1252" width="171" height="3" fill="#00c8c8"/>
<rect x="335" y="1249" width="1" height="9" fill="#fff"/>
<use href="#tri" x="507" y="1248"/>
<g fill="#fff"><use href="#pre" x="527" y="1245"/><use href="#S67" x="587" y="1245"/><use href="#S51" x="593" y="1245"/><use href="#S89" x="599" y="1245"/><use href="#S51" x="605" y="1245"/><use href="#S81" x="611" y="1245"/><use href="#S49" x="617" y="1245"/></g>
<rect x="311" y="1263" width="196" height="3" fill="#00c8c8"/>
<rect x="310" y="1260" width="1" height="9" fill="#fff"/>
<use href="#tri" x="507" y="1259"/>
<g fill="#fff"><use href="#pre" x="527" y="1256"/><use href="#S66" x="587" y="1256"/><use href="#S54" x="593" y="1256"/><use href="#S75" x="599" y="1256"/><use href="#S76" x="605" y="1256"/><use href="#S65" x="611" y="1256"/><use href="#S49" x="617" y="1256"/></g>
<rect x="10" y="1274" width="517" height="3" fill="#000033"/>
<rect x="311" y="1274" width="196" height="3" fill="#00c8c8"/>
<rect x="310" y="1271" width="1" height="9" fill="#fff"/>
<rect x="464" y="1274" width="3" height="1" fill="#000"/><rect x="464" y="1276" width="3" height="1" fill="#000"/>
<use href="#tri" x="507" y="1270"/>
<g fill="#fff"><use href="#pre" x="527" y="1267"/><use href="#S65" x="587" y="1267"/><use href="#S53" x="593" y="1267"/><use href="#S75" x="599" y="1267"/><use href="#S55" x="605" y="1267"/><use href="#S65" x="611" y="1267"/><use href="#S56" x="617" y="1267"/></g>
<rect x="311" y="1285" width="196" height="3" fill="#00c8c8"/>
<rect x="310" y="1282" width="1" height="9" fill="#fff"/>
<use href="#tri" x="507" y="1281"/>
<g fill="#fff"><use href="#pre" x="527" y="1278"/><use href="#S80" x="587" y="1278"/><use href="#S49" x="593" y="1278"/><use href="#S48" x="599" y="1278"/><use href="#S56" x="605" y="1278"/><use href="#S55" x="611" y="1278"/><use href="#S56" x="617" y="1278"/></g>
<rect x="10" y="1296" width="517" height="3" fill="#000033"/>
<rect x="311" y="1296" width="196" height="3" fill="#00c8c8"/>
<rect x="310" y="1293" width="1" height="9" fill="#fff"/>
<rect x="464" y="1296" width="3" height="1" fill="#000"/><rect x="464" y="1298" width="3" height="1" fill="#000"/>
<use href="#tri" x="507" y="1292"/>
<g fill="#fff"><use href="#pre" x="527" y="1289"/><use href="#S80" x="587" y="1289"/><use href="#S49" x="593" y="1289"/><use href="#S52" x="599" y="1289"/><use href="#S49" x="605" y="1289"/><use href="#S52" x="611" y="1289"/><use href="#S48" x="617" y="1289"/></g>
<rect x="311" y="1307" width="196" height="3" fill="#00c8c8"/>
<rect x="310" y="1304" width="1" height="9" fill="#fff"/>
<rect x="464" y="1307" width="3" height="1" fill="#000"/><rect x="464" y="1309" width="3" height="1" fill="#000"/>
<use href="#tri" x="507" y="1303"/>
<g fill="#fff"><use href="#pre" x="527" y="1300"/><use href="#S81" x="587" y="1300"/><use href="#S55" x="593" y="1300"/><use href="#S75" x="599" y="1300"/><use href="#S81" x="605" y="1300"/><use href="#S76" x="611" y="1300"/><use href="#S53" x="617" y="1300"/></g>
<rect x="10" y="1318" width="517" height="3" fill="#000033"/>
<rect x="311" y="1318" width="196" height="3" fill="#00c8c8"/>
<rect x="310" y="1315" width="1" height="9" fill="#fff"/>
<rect x="462" y="1318" width="3" height="1" fill="#000"/><rect x="462" y="1320" width="3" height="1" fill="#000"/>
<use href="#tri" x="507" y="1314"/>
<g fill="#fff"><use href="#pre" x="527" y="1311"/><use href="#S80" x="587" y="1311"/><use href="#S48" x="593" y="1311"/><use href="#S50" x="599" y="1311"/><use href="#S53" x="605" y="1311"/><use href="#S53" x="611" y="1311"/><use href="#S54" x="617" y="1311"/></g>
<rect x="342" y="1329" width="165" height="3" fill="#00c8c8"/>
<rect x="341" y="1326" width="1" height="9" fill="#fff"/>
<use href="#tri" x="507" y="1325"/>
<g fill="#fff"><use href="#pre" x="527" y="1322"/><use href="#S80" x="587" y="1322"/><use href="#S49" x="593" y="1322"/><use href="#S50" x="599" y="1322"/><use href="#S52" x="605" y="1322"/><use href="#S49" x="611" y="1322"/><use href="#S49" x="617" y="1322"/></g>
<rect x="10" y="1340" width="517" height="3" fill="#000033"/>
<rect x="323" y="1340" width="184" height="3" fill="#00c8c8"/>
<rect x="322" y="1337" width="1" height="9" fill="#fff"/>
<use href="#tri" x="507" y="1336"/>
<g fill="#fff"><use href="#pre" x="527" y="1333"/><use href="#S66" x="587" y="1333"/><use href="#S53" x="593" y="1333"/><use href="#S71" x="599" y="1333"/><use href="#S52" x="605" y="1333"/><use href="#S71" x="611" y="1333"/><use href="#S55" x="617" y="1333"/></g>
<rect x="305" y="1351" width="202" height="3" fill="#00c8c8"/>
<rect x="304" y="1348" width="1" height="9" fill="#fff"/>
<use href="#tri" x="507" y="1347"/>
<g fill="#fff"><use href="#pre" x="527" y="1344"/><use href="#S81" x="587" y="1344"/><use href="#S51" x="593" y="1344"/><use href="#S56" x="599" y="1344"/><use href="#S72" x="605" y="1344"/><use href="#S87" x="611" y="1344"/><use href="#S48" x="617" y="1344"/></g>
<rect x="10" y="1362" width="517" height="3" fill="#000033"/>
<rect x="305" y="1362" width="202" height="3" fill="#00c8c8"/>
<rect x="304" y="1359" width="1" height="9" fill="#fff"/>
<use href="#tri" x="507" y="1358"/>
<g fill="#fff"><use href="#pre" x="527" y="1355"/><use href="#S66" x="587" y="1355"/><use href="#S53" x="593" y="1355"/><use href="#S77" x="599" y="1355"/><use href="#S52" x="605" y="1355"/><use href="#S66" x="611" y="1355"/><use href="#S49" x="617" y="1355"/></g>
<rect x="342" y="1373" width="165" height="3" fill="#00c8c8"/>
<rect x="341" y="1370" width="1" height="9" fill="#fff"/>
<use href="#tri" x="507" y="1369"/>
<g fill="#fff"><use href="#pre" x="527" y="1366"/><use href="#S65" x="587" y="1366"/><use href="#S53" x="593" y="1366"/><use href="#S67" x="599" y="1366"/><use href="#S70" x="605" y="1366"/><use href="#S90" x="611" y="1366"/><use href="#S49" x="617" y="1366"/></g>
<rect x="10" y="1384" width="517" height="3" fill="#000033"/>
<rect x="305" y="1384" width="202" height="3" fill="#00c8c8"/>
<rect x="304" y="1381" width="1" height="9" fill="#fff"/>
<rect x="464" y="1384" width="3" height="1" fill="#000"/><rect x="464" y="1386" width="3" height="1" fill="#000"/>
<use href="#tri" x="507" y="1380"/>
<g fill="#fff"><use href="#pre" x="527" y="1377"/><use href="#S65" x="587" y="1377"/><use href="#S53" x="593" y="1377"/><use href="#S65" x="599" y="1377"/><use href="#S78" x="605" y="1377"/><use href="#S76" x="611" y="1377"/><use href="#S57" x="617" y="1377"/></g>
<rect x="342" y="1395" width="165" height="3" fill="#00c8c8"/>
<rect x="341" y="1392" width="1" height="9" fill="#fff"/>
<use href="#tri" x="507" y="1391"/>
<g fill="#fff"><use href="#pre" x="527" y="1388"/><use href="#S65" x="587" y="1388"/><use href="#S50" x="593" y="1388"/><use href="#S90" x="599" y="1388"/><use href="#S82" x="605" y="1388"/><use href="#S87" x="611" y="1388"/><use href="#S53" x="617" y="1388"/></g>
<rect x="10" y="1406" width="517" height="3" fill="#000033"/>
<rect x="311" y="1406" width="196" height="3" fill="#00c8c8"/>
<rect x="310" y="1403" width="1" height="9" fill="#fff"/>
<use href="#tri" x="507" y="1402"/>
<g fill="#fff"><use href="#pre" x="527" y="1399"/><use href="#S81" x="587" y="1399"/><use href="#S48" x="593" y="1399"/><use href="#S80" x="599" y="1399"/><use href="#S72" x="605" y="1399"/><use href="#S80" x="611" y="1399"/><use href="#S51" x="617" y="1399"/></g>
<rect x="323" y="1417" width="184" height="3" fill="#00c8c8"/>
<rect x="322" y="1414" width="1" height="9" fill="#fff"/>
<use href="#tri" x="507" y="1413"/>
<g fill="#fff"><use href="#pre" x="527" y="1410"/><use href="#S66" x="587" y="1410"/><use href="#S48" x="593" y="1410"/><use href="#S87" x="599" y="1410"/><use href="#S48" x="605" y="1410"/><use href="#S52" x="611" y="1410"/><use href="#S51" x="617" y="1410"/></g>
<rect x="10" y="1428" width="517" height="3" fill="#000033"/>
<rect x="323" y="1428" width="184" height="3" fill="#00c8c8"/>
<rect x="322" y="1425" width="1" height="9" fill="#fff"/>
<use href="#tri" x="507" y="1424"/>
<g fill="#fff"><use href="#pre" x="527" y="1421"/><use href="#S80" x="587" y="1421"/><use href="#S48" x="593" y="1421"/><use href="#S57" x="599" y="1421"/><use href="#S50" x="605" y="1421"/><use href="#S48" x="611" y="1421"/><use href="#S54" x="617" y="1421"/></g>
<g fill="#fff"><use href="#S76" x="10" y="1440"/><use href="#S97" x="16" y="1440"/><use href="#S114" x="22" y="1440"/><use href="#S103" x="28" y="1440"/><use href="#S101" x="34" y="1440"/><use href="#S103" x="46" y="1440"/><use href="#S97" x="52" y="1440"/><use href="#S112" x="58" y="1440"/><use href="#S115" x="64" y="1440"/><use href="#S58" x="70" y="1440"/></g>
<path d="M82 1444h1v2h-1zM81 1446h3v3h-3zM80 1449h5v2h-5z" fill="#fff080"/>
<g fill="#fff"><use href="#S40" x="88" y="1440"/><use href="#S105" x="94" y="1440"/><use href="#S110" x="100" y="1440"/><use href="#S81" x="112" y="1440"/><use href="#S117" x="118" y="1440"/><use href="#S101" x="124" y="1440"/><use href="#S114" x="130" y="1440"/><use href="#S121" x="136" y="1440"/><use href="#S41" x="142" y="1440"/><use href="#S47" x="148" y="1440"/></g>
<rect x="155" y="1447" width="6" height="1" fill="#00c8c8"/>
<g fill="#fff"><use href="#S40" x="166" y="1440"/><use href="#S105" x="172" y="1440"/><use href="#S110" x="178" y="1440"/><use href="#S83" x="190" y="1440"/><use href="#S117" x="196" y="1440"/><use href="#S98" x="202" y="1440"/><use href="#S106" x="208" y="1440"/><use href="#S101" x="214" y="1440"/><use href="#S99" x="220" y="1440"/><use href="#S116" x="226" y="1440"/><use href="#S41" x="232" y="1440"/></g>
<rect x="444" y="1443" width="1" height="9" fill="#333300"/><rect x="445" y="1446" width="17" height="3" fill="#00c8c8"/><rect x="462" y="1443" width="1" height="9" fill="#333300"/>
<g fill="#fff"><use href="#S61" x="466" y="1440"/><use href="#S53" x="472" y="1440"/><use href="#S48" x="478" y="1440"/><use href="#S99" x="484" y="1440"/><use href="#S104" x="490" y="1440"/><use href="#S97" x="496" y="1440"/><use href="#S114" x="502" y="1440"/><use href="#S46" x="508" y="1440"/></g></svg></body></html>
